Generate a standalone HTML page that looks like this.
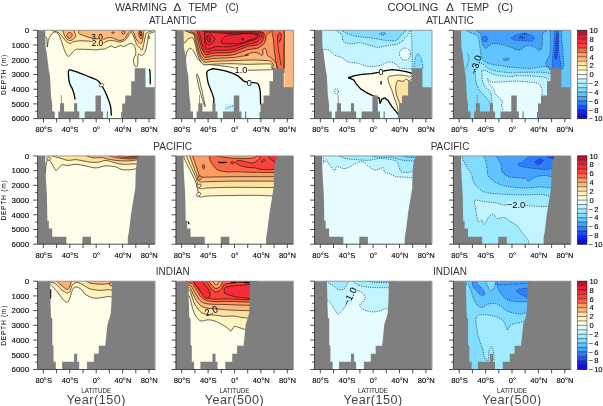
<!DOCTYPE html>
<html><head><meta charset="utf-8"><title>Zonal mean temperature change</title>
<style>html,body{margin:0;padding:0;background:#fff}svg{display:block}text{font-family:"Liberation Sans",sans-serif;fill:#222}.tk{font-size:7.6px;fill:#000;stroke:#000;stroke-width:.12px}.dk{font-size:7.9px;fill:#000;stroke:#000;stroke-width:.12px}.ti{font-size:11.8px;fill:#333}.ba{font-size:10px;fill:#333}.yr{font-size:12.6px;fill:#444;letter-spacing:.5px}.la{font-size:6.3px;fill:#222}.dl{font-size:6.7px;fill:#000;letter-spacing:.72px}.cp{fill:none;stroke:#1a1006;stroke-width:.65}.cn{fill:none;stroke:#12284a;stroke-width:.72;stroke-dasharray:1.1 1.2}.cz{fill:none;stroke:#000;stroke-width:1.3;stroke-linejoin:round;stroke-linecap:round}.ax{stroke:#222;stroke-width:.8;fill:none}.fr{stroke:#858585;stroke-width:.8;fill:none}</style></head><body>
<svg width="603" height="406" viewBox="0 0 603 406">
<rect width="603" height="406" fill="#fff"/>
<defs>
<clipPath id="c00"><rect x="37.6" y="30.3" width="117.5" height="88.3"/></clipPath>
<clipPath id="c01"><rect x="175.9" y="30.3" width="117.5" height="88.3"/></clipPath>
<clipPath id="c02"><rect x="314.5" y="30.3" width="117.5" height="88.3"/></clipPath>
<clipPath id="c03"><rect x="453.4" y="30.3" width="117.5" height="88.3"/></clipPath>
<clipPath id="c10"><rect x="37.6" y="155.9" width="117.5" height="88.3"/></clipPath>
<clipPath id="c11"><rect x="175.9" y="155.9" width="117.5" height="88.3"/></clipPath>
<clipPath id="c12"><rect x="314.5" y="155.9" width="117.5" height="88.3"/></clipPath>
<clipPath id="c13"><rect x="453.4" y="155.9" width="117.5" height="88.3"/></clipPath>
<clipPath id="c20"><rect x="37.6" y="281.2" width="117.5" height="88.3"/></clipPath>
<clipPath id="c21"><rect x="175.9" y="281.2" width="117.5" height="88.3"/></clipPath>
<clipPath id="c22"><rect x="314.5" y="281.2" width="117.5" height="88.3"/></clipPath>
<clipPath id="c23"><rect x="453.4" y="281.2" width="117.5" height="88.3"/></clipPath>
</defs>
<g clip-path="url(#c00)">
<rect x="37.6" y="30.3" width="117.5" height="88.3" fill="#fffeea"/>
<path d="M45.3 29C28.1 30.6 46.5 35.3 46.8 38.3C47.2 41.4 47.1 46.8 47.3 47.1C47.6 47.5 47.7 42.6 48.4 40.4C49.1 38.3 50.4 35.6 51.5 34.2C52.5 32.8 53.5 32.3 54.6 32.1C55.6 32 56.6 32 57.7 33.2C58.7 34.4 59.8 36.8 60.8 39.4C61.8 42 62.9 46 63.9 48.7C64.9 51.4 66.1 54.2 67 55.4C67.9 56.6 68.2 56.6 69.1 56.1C69.9 55.7 71.1 53.9 72.2 52.8C73.2 51.8 73.9 50.3 75.3 49.7C76.6 49.1 78.2 49.2 80.4 49.2C82.7 49.2 85.9 49.4 88.7 49.5C91.5 49.6 95.1 50 97 49.9C98.9 49.9 98.9 49.3 100.1 49.2C101.4 49.1 102.9 49.5 104.3 49.2C105.7 48.9 107.2 47.6 108.4 47.1C109.6 46.6 110.5 46 111.5 46.1C112.5 46.2 113.6 47.6 114.6 47.6C115.6 47.7 116.7 47 117.7 46.6C118.8 46.3 119.8 45.6 120.8 45.6C121.9 45.6 122.9 46.7 123.9 46.6C125 46.5 126 45.6 127 45.1C128.1 44.5 129.1 43.6 130.1 43.5C131.2 43.4 132.4 43.7 133.2 44.5C134.1 45.4 134.9 47.1 135.3 48.7C135.7 50.2 136 52.5 135.8 53.9C135.6 55.2 134.7 55.9 134.3 57C133.9 58 133.5 58.9 133.4 60.1C133.4 61.2 133.8 62.6 134.1 63.7C134.3 64.7 134.6 65.8 135.1 66.3C135.6 66.7 136.5 67 137 66.5C137.4 66 137.6 65.2 137.8 63.2C138 61.1 137.6 55.7 138.2 54.4C138.8 53.1 140.4 55.7 141.5 55.4C142.6 55.1 143.7 54.3 144.6 52.8C145.5 51.4 146.2 48.7 146.7 46.6C147.2 44.5 147.4 42.5 147.7 40.4C148.1 38.3 148.4 36.1 148.7 34.2C149.1 32.3 167 29.9 149.8 29C132.5 28.2 62.4 27.5 45.3 29Z" fill="#fff5c2" class="cp" style="fill:#fff5c2"/>
<path d="M57.2 29C42.5 29.6 57.8 31.3 58.7 32.7C59.7 34 61.5 35.8 62.9 37.3C64.2 38.9 65.8 40.9 67 42C68.2 43 69.1 43.5 70.1 43.5C71.1 43.5 71.8 42.4 73.2 42C74.6 41.5 76.3 41.1 78.4 40.9C80.4 40.8 83.5 40.8 85.6 40.9C87.7 41 89.2 41.2 90.8 41.4C92.3 41.7 93 42.1 94.9 42.5C96.8 42.8 100.3 43.7 102.2 43.5C104.1 43.3 105 42 106.3 41.4C107.7 40.9 109.1 40.5 110.5 40.4C111.9 40.3 113.2 40.7 114.6 40.9C116 41.2 117.4 41.9 118.8 42C120.1 42 121.7 41.9 122.9 41.4C124.1 41 125.1 40.2 126 39.4C126.9 38.5 127.4 37.3 128.1 36.3C128.7 35.2 129.5 33.8 130.1 33.2C130.7 32.6 131.2 32.3 131.7 32.7C132.2 33 132.7 34.1 133.2 35.2C133.7 36.4 134.3 38 134.8 39.4C135.3 40.8 135.7 42.3 136.3 43.5C136.9 44.7 137.7 45.8 138.4 46.6C139.1 47.5 139.9 48.1 140.5 48.7C141.1 49.3 141.6 50.4 142 50.2C142.4 50.1 142.7 48.9 143.1 47.6C143.4 46.4 143.7 44.2 144.1 42.5C144.4 40.8 144.8 38.9 145.1 37.3C145.5 35.8 145.9 34.5 146.2 33.2C146.4 31.8 161.5 29.7 146.7 29C131.8 28.3 71.8 28.4 57.2 29Z" fill="#ffe2a0" class="cp" style="fill:#ffe2a0"/>
<path d="M63.4 29C62 30.2 64.1 34.5 64.9 36.3C65.7 38.1 67 39.2 68 39.9C69.1 40.6 70.1 40.7 71.1 40.4C72.2 40.2 73.5 39.1 74.2 38.3C75 37.6 75.7 36.7 75.8 35.8C75.9 34.8 75.2 33.8 74.7 32.7C74.3 31.5 75.1 29.6 73.2 29C71.3 28.4 64.7 27.8 63.4 29Z" fill="#fdb87e" class="cp" style="fill:#fdb87e"/>
<path d="M86.6 29C77.8 29.6 78.5 31.4 78.4 32.7C78.2 33.9 83.5 35.4 85.6 36.3C87.7 37.1 88 37.3 90.8 37.8C93.5 38.3 99.6 39.3 102.2 39.4C104.8 39.5 105 38.7 106.3 38.3C107.7 38 109.1 37.4 110.5 37.5C111.9 37.6 113.2 38.4 114.6 38.9C116 39.3 117.4 40.2 118.8 40.4C120.1 40.6 121.8 40.3 122.9 39.9C124 39.5 124.7 38.8 125.5 37.8C126.2 36.9 126.9 35.2 127.5 34.2C128.2 33.2 129 32.5 129.6 31.6C130.2 30.8 138.3 29.5 131.2 29C124 28.6 95.4 28.4 86.6 29Z" fill="#fdb87e" class="cp" style="fill:#fdb87e"/>
<path d="M132.7 29C131.1 29.9 133.7 32.7 134.3 34.2C134.8 35.8 135.1 37 135.8 38.3C136.5 39.6 137.5 41.1 138.4 42C139.3 42.8 140.3 43.8 141 43.5C141.7 43.3 142.2 41.6 142.5 40.4C142.9 39.2 142.9 37.7 143.1 36.3C143.2 34.9 143.4 33.3 143.6 32.1C143.7 30.9 145.6 29.6 143.8 29C142 28.5 134.3 28.2 132.7 29Z" fill="#fdb87e" class="cp" style="fill:#fdb87e"/>
<path d="M71.9 36.1C71.7 36.6 71.3 37.2 70.9 37.5C70.5 37.9 69.8 38.1 69.4 38.1C68.9 38.1 68.3 37.9 67.9 37.6C67.5 37.2 67.2 36.7 67.1 36.2C67 35.6 67 34.9 67.2 34.4C67.4 33.9 67.8 33.3 68.3 33C68.7 32.6 69.3 32.4 69.8 32.4C70.3 32.4 70.9 32.6 71.2 32.9C71.6 33.2 71.9 33.8 72 34.3C72.2 34.9 72.1 35.6 71.9 36.1Z" fill="#fd9c62" class="cp" style="fill:#fd9c62"/>
<path d="M125.1 32.3C125.1 32.7 124.9 33.1 124.7 33.3C124.6 33.6 124.2 33.8 123.9 33.9C123.6 34 123.2 34 122.9 33.9C122.6 33.8 122.3 33.6 122.1 33.3C121.9 33.1 121.7 32.7 121.7 32.3C121.7 32 121.9 31.6 122.1 31.4C122.3 31.1 122.6 30.9 122.9 30.8C123.2 30.7 123.6 30.7 123.9 30.8C124.2 30.9 124.6 31.1 124.7 31.4C124.9 31.6 125.1 32 125.1 32.3Z" fill="#fd9c62" class="cp" style="fill:#fd9c62"/>
<path d="M142 34.2C142.1 35 142.1 36.1 142.1 36.8C142 37.5 141.8 38.1 141.5 38.4C141.3 38.7 140.9 38.8 140.6 38.6C140.2 38.3 139.9 37.8 139.6 37.1C139.3 36.5 139 35.5 138.9 34.6C138.8 33.8 138.8 32.8 138.9 32.1C139 31.4 139.2 30.7 139.4 30.4C139.7 30.1 140 30 140.4 30.3C140.7 30.5 141.1 31.1 141.4 31.7C141.6 32.4 141.9 33.4 142 34.2Z" fill="#fd9c62" class="cp" style="fill:#fd9c62"/>
<path d="M141.4 33.6C141.5 34.1 141.5 34.6 141.5 35.1C141.4 35.5 141.3 35.8 141.2 36C141.1 36.2 140.9 36.2 140.8 36.1C140.6 35.9 140.4 35.6 140.3 35.2C140.2 34.8 140 34.3 140 33.8C139.9 33.3 139.9 32.7 139.9 32.3C139.9 31.9 140 31.5 140.1 31.4C140.2 31.2 140.4 31.2 140.6 31.3C140.7 31.4 140.9 31.8 141.1 32.2C141.2 32.5 141.3 33.1 141.4 33.6Z" fill="#fb6648" class="cp" style="fill:#fb6648"/>
<path d="M114.4 32.7C114.4 32.8 114.3 32.9 114.2 33C114 33.1 113.7 33.2 113.5 33.2C113.2 33.3 112.9 33.3 112.6 33.2C112.4 33.2 112.1 33.1 112 33C111.8 32.9 111.7 32.8 111.7 32.7C111.7 32.5 111.8 32.4 112 32.3C112.1 32.2 112.4 32.1 112.6 32.1C112.9 32 113.2 32 113.5 32.1C113.7 32.1 114 32.2 114.2 32.3C114.3 32.4 114.4 32.5 114.4 32.7Z" fill="#fdb87e" class="cp" style="fill:#fdb87e"/>
<path d="M149.7 37.3C149.7 37.6 149.6 37.9 149.5 38.2C149.4 38.4 149.3 38.6 149.2 38.7C149 38.8 148.9 38.8 148.7 38.7C148.6 38.6 148.4 38.4 148.4 38.2C148.3 37.9 148.2 37.6 148.2 37.3C148.2 37 148.3 36.7 148.4 36.5C148.4 36.2 148.6 36 148.7 35.9C148.9 35.8 149 35.8 149.2 35.9C149.3 36 149.4 36.2 149.5 36.5C149.6 36.7 149.7 37 149.7 37.3Z" fill="#fff5c2" class="cp" style="fill:#fff5c2"/>
<path d="M75 99 L74.5 95.9 L72.4 89 L69.8 83.8 L68.6 76.9 L69 70 L75.9 71.7 L87.2 76 L95.9 79.5 L99.3 82 L102.8 87.2 L107 95.9 L110.5 106.2 L111.4 115.2 L111.4 120 L75 120Z" fill="#e6fcff"/>
<path d="M75 99C74.9 98.5 74.9 97.6 74.5 95.9C74.1 94.2 73.2 91 72.4 89C71.6 87 70.4 85.8 69.8 83.8C69.2 81.8 68.7 79.2 68.6 76.9C68.5 74.6 67.8 70.9 69 70C70.2 69.1 72.9 70.7 75.9 71.7C78.9 72.7 83.9 74.7 87.2 76C90.5 77.3 93.9 78.5 95.9 79.5C97.9 80.5 98.2 80.7 99.3 82C100.4 83.3 101.5 84.9 102.8 87.2C104.1 89.5 105.7 92.7 107 95.9C108.3 99.1 109.8 103 110.5 106.2C111.2 109.4 111.2 113.7 111.4 115.2" class="cz"/>
<path d="M145.5 68 L149.8 68 L150.2 87.5 L145.5 87.5Z" fill="#e6fcff"/>
<path d="M149.3 69.5 L150 71 L150.2 76 L150.3 83.8" class="cz"/>
<path d="M103.8 84.4C103.9 84.7 103.8 85 103.6 85.4C103.4 85.7 103.1 86 102.7 86.3C102.3 86.5 101.7 86.7 101.3 86.8C100.8 86.9 100.3 86.8 100 86.7C99.6 86.6 99.3 86.3 99.2 86C99.1 85.7 99.2 85.4 99.4 85C99.6 84.7 99.9 84.4 100.3 84.1C100.7 83.9 101.3 83.7 101.7 83.6C102.2 83.5 102.7 83.6 103 83.7C103.4 83.8 103.7 84.1 103.8 84.4Z" fill="#fffeea" class="cp" style="fill:#fffeea"/>
<g transform="translate(97 36.9) rotate(0)"><rect x="-5.8" y="-3.2" width="11.7" height="6.4" fill="none"/><text x="0" y="2.9" text-anchor="middle" style="font-size:8.2px;fill:#000">3.0</text></g>
<g transform="translate(97.4 42.6) rotate(0)"><rect x="-5.8" y="-3.2" width="11.7" height="6.4" fill="#ffe2a0"/><text x="0" y="2.9" text-anchor="middle" style="font-size:8.2px;fill:#000">2.0</text></g>
<path d="M37.6 30.3 L45.2 30.3 L45.6 48 L46.6 52 L48.8 70 L50 76 L51 96 L52.2 104.5 L52.2 111.4 L54.8 111.4 L54.8 118.6 L37.6 118.6Z" fill="#7f7f7f"/>
<path d="M58.3 118.6 L58.3 111.4 L60 111.4 L60 103.3 L60.9 103.3 L60.9 95 L61.7 95 L61.7 103.3 L64.1 103.3 L64.1 111.4 L74.1 111.4 L74.1 103.3 L77.2 103.3 L77.2 111.4 L79.3 111.4 L79.3 118.6Z" fill="#7f7f7f"/>
<path d="M84.7 118.6 L84.7 111.4 L95.5 111.4 L95.5 95.5 L101 95.5 L101 111.4 L103.1 111.4 L103.1 118.6Z" fill="#7f7f7f"/>
<path d="M106.7 118.6 L106.7 111.4 L107.9 111.4 L107.9 118.6Z" fill="#7f7f7f"/>
<path d="M121.2 118.6 L121.2 111.9 L122.2 111.9 L122.2 103.6 L125.2 103.6 L125.2 95.5 L131.2 95.5 L131.2 81.2 L134.7 81.2 L134.7 68.3 L145.5 68.3 L145.5 87.2 L154.8 87.2 L154.8 118.6Z" fill="#7f7f7f"/>
</g>
<path class="fr" d="M37.6 30.3 H155.1 V118.6"/>
<path class="ax" d="M37.6 30.3 V118.6 H155.1M37.6 30.3h-4.4M37.6 37.7h-2.4M37.6 45h-4.4M37.6 52.4h-2.4M37.6 59.7h-4.4M37.6 67.1h-2.4M37.6 74.5h-4.4M37.6 81.8h-2.4M37.6 89.2h-4.4M37.6 96.5h-2.4M37.6 103.9h-4.4M37.6 111.2h-2.4M37.6 118.6h-4.4M43.4 118.6v3.8M56.6 118.6v3.8M69.8 118.6v3.8M83 118.6v3.8M96.2 118.6v3.8M109.4 118.6v3.8M122.6 118.6v3.8M135.8 118.6v3.8M149 118.6v3.8"/>
<text class="tk" x="43.7" y="132.4" text-anchor="middle">80°S</text>
<text class="tk" x="70.1" y="132.4" text-anchor="middle">40°S</text>
<text class="tk" x="96.5" y="132.4" text-anchor="middle">0°</text>
<text class="tk" x="122.9" y="132.4" text-anchor="middle">40°N</text>
<text class="tk" x="149.3" y="132.4" text-anchor="middle">80°N</text>
<text class="dk" x="29.1" y="33.1" text-anchor="end">0</text>
<text class="dk" x="29.1" y="47.8" text-anchor="end">1000</text>
<text class="dk" x="29.1" y="62.5" text-anchor="end">2000</text>
<text class="dk" x="29.1" y="77.2" text-anchor="end">3000</text>
<text class="dk" x="29.1" y="92" text-anchor="end">4000</text>
<text class="dk" x="29.1" y="106.7" text-anchor="end">5000</text>
<text class="dk" x="29.1" y="121.4" text-anchor="end">6000</text>
<text class="dl" transform="translate(6.4 74.5) rotate(-90)" text-anchor="middle">DEPTH (m)</text>
<g clip-path="url(#c01)">
<rect x="175.9" y="30.3" width="117.5" height="88.3" fill="#fffeea"/>
<path d="M183 29C164.7 34.2 183.8 52.8 184 60C184.2 67.2 184.3 71.7 184.5 72C184.7 72.3 185 65.2 185.3 62C185.7 58.8 185.7 55.2 186.5 52.9C187.2 50.7 188.7 48.8 189.9 48.4C191 48 192.1 49.2 193.3 50.7C194.4 52.2 195.4 55.6 196.7 57.5C198 59.4 199.3 60.9 201.2 62C203.1 63.1 205 63.7 208 64.3C211 64.9 215.7 65.2 219.4 65.6C223 66.1 226.4 66.4 230 67C233.6 67.6 238 68.8 241 69.3C244 69.8 244.5 70.1 248 70.2C251.5 70.3 257.9 70.1 262 70C266.1 69.9 267.4 69.8 272.7 69.7C278 69.7 290.4 76.5 294 69.7C297.6 62.9 312.5 35.8 294 29C275.5 22.2 201.3 23.8 183 29Z" fill="#fff5c2" class="cp" style="fill:#fff5c2"/>
<path d="M196.6 74.3C196.7 73.4 197.8 74.7 198.6 76.9C199.4 79.1 200.3 83.5 201.2 87.2C202.1 91 203.1 96.1 203.8 99.3C204.5 102.5 205.2 106 205.2 106.6C205.1 107.1 204.3 105.1 203.4 102.8C202.6 100.4 201.3 95.9 200.3 92.4C199.4 89 198.4 85.1 197.8 82.1C197.1 79.1 196.4 75.2 196.6 74.3Z" fill="#fff5c2" class="cp" style="fill:#fff5c2"/>
<path d="M183.5 29C165.2 31.2 183.7 40.8 184.3 42.5C185 44.2 186.4 40.2 187.4 39.4C188.4 38.6 189.6 38 190.5 37.8C191.4 37.6 192.4 37.5 193.1 38.3C193.8 39.1 194.2 40.8 194.7 42.5C195.2 44.2 195.7 46.6 196.2 48.7C196.7 50.8 197.2 53 197.8 54.9C198.4 56.8 199.2 58.6 199.9 60.1C200.6 61.6 201 62.8 202 63.6C203 64.4 204.2 64.7 206 64.8C207.8 64.9 209 64.4 213 64.2C217 64 224.2 63.7 230 63.7C235.8 63.7 242.7 64.2 248 64.3C253.3 64.3 258 64 262 64C266 64 270 63.5 271.8 64.3C273.6 65.1 269.3 68 273 68.8C276.7 69.6 290.5 75.6 294 69C297.5 62.4 312.4 35.7 294 29C275.6 22.3 201.8 26.8 183.5 29Z" fill="#ffe2a0" class="cp" style="fill:#ffe2a0"/>
<path d="M191.5 29C174.8 29.9 193.2 32.5 193.8 34.2C194.4 35.9 194.6 37.5 195 39.4C195.4 41.3 196 43.5 196.5 45.6C197 47.7 197.4 49.9 198 51.8C198.6 53.7 199.2 55.5 200 57C200.8 58.5 201.5 60.1 202.5 61C203.5 61.9 204.2 62.2 206 62.3C207.8 62.4 209 61.6 213 61.4C217 61.1 224.2 61 230 60.8C235.8 60.6 243.5 60.2 248 60.1C252.5 60 254 59.9 256.8 60C259.6 60.1 262.6 60.3 265 60.5C267.4 60.7 269.6 60.6 271 61.4C272.4 62.1 272.9 63.8 273.5 65C274.1 66.2 270.9 68.2 274.3 68.9C277.7 69.6 290.7 75.7 294 69C297.3 62.4 311.1 35.7 294 29C276.9 22.3 208.2 28.1 191.5 29Z" fill="#fdb87e" class="cp" style="fill:#fdb87e"/>
<path d="M193.5 29C178.6 30 194.7 33.3 195.2 35.2C195.7 37.1 196.1 38.5 196.5 40.4C196.9 42.3 197.3 44.6 197.8 46.6C198.3 48.6 198.9 50.8 199.5 52.5C200.1 54.2 200.8 55.8 201.5 57C202.2 58.2 202.9 59.2 204 59.6C205.1 60 206.5 59.7 208 59.5C209.5 59.3 209.3 58.8 213 58.5C216.7 58.2 225.5 58.1 230 57.8C234.5 57.5 236.9 57 240 56.5C243.1 56 247.6 55.3 248.4 55.1C249.2 54.9 245 55.3 245 55.1C245 54.9 247.1 54.2 248.4 53.8C249.6 53.4 251.2 52.8 252.6 52.6C254 52.4 255.5 52.3 256.8 52.6C258 52.8 259.3 53.7 260.1 54.2C260.9 54.7 261.3 55.6 261.8 55.5C262.3 55.4 262.9 54.7 263 53.8C263.2 52.9 262.4 51 262.6 50.1C262.8 49.1 263.7 48.5 264.3 48.4C264.8 48.2 265.5 48.5 266 49.2C266.4 49.9 266.5 51.5 266.8 52.6C267.1 53.6 266.9 54.7 267.6 55.5C268.3 56.3 270 56.8 271 57.6C272 58.4 272.7 59.1 273.5 60.1C274.3 61.1 275.3 62 276 63.5C276.7 64.9 276.3 67.8 277.7 68.6C279.1 69.5 283.2 75.4 284.4 68.8C285.6 62.2 299.8 35.6 284.6 29C269.5 22.4 208.4 28 193.5 29Z" fill="#fd9c62" class="cp" style="fill:#fd9c62"/>
<path d="M195.3 29C183.9 30 196.4 33.3 196.8 35.2C197.2 37.1 197.6 38.6 198 40.4C198.4 42.2 198.8 44.1 199.3 46C199.8 47.9 200.4 49.9 201 51.5C201.6 53.1 202.2 54.5 203 55.5C203.8 56.5 204.5 57 205.5 57.3C206.5 57.5 207.6 57.2 209 57C210.4 56.8 210.5 56.1 214 55.8C217.5 55.5 225.7 55.8 230 55.3C234.3 54.8 237 53.5 240 52.5C243 51.5 245.2 50.3 248 49.6C250.8 48.9 254.6 49 256.8 48.4C259 47.8 259.8 47.1 261 46.3C262.2 45.5 263.2 44.5 264 43.5C264.8 42.5 265.3 41.2 265.6 40C265.9 38.8 266.1 37.8 266 36C265.9 34.2 276.8 30.2 265 29C253.2 27.8 206.7 28 195.3 29Z" fill="#fb6648" class="cp" style="fill:#fb6648"/>
<path d="M272.6 29C270.9 30.8 273.2 36.5 273.5 40C273.8 43.5 274 47 274.3 50C274.6 53 274.9 55.7 275.3 58C275.7 60.3 276.1 62.2 276.5 64C276.9 65.8 276.9 68.2 278 69C279.1 69.8 282.4 72.2 283.4 69C284.4 65.8 284 56.7 284 50C284 43.3 285.5 32.5 283.6 29C281.7 25.5 274.3 27.2 272.6 29Z" fill="#fb6648" class="cp" style="fill:#fb6648"/>
<path d="M281.1 37.6C280.9 38.5 280.7 39.5 280.3 40.2C280 40.9 279.6 41.5 279.2 41.8C278.8 42 278.3 41.9 278 41.6C277.7 41.3 277.5 40.6 277.4 39.8C277.2 39 277.3 38 277.4 37C277.5 36.1 277.8 35.1 278.1 34.4C278.4 33.7 278.9 33.1 279.3 32.8C279.7 32.6 280.1 32.7 280.4 33C280.7 33.3 281 34 281.1 34.8C281.2 35.6 281.2 36.7 281.1 37.6Z" fill="#f9423d" class="cp" style="fill:#f9423d"/>
<path d="M277.7 41.7C277.8 42.5 277.9 44.9 278.1 46.7C278.3 48.5 278.6 50.5 278.9 52.6C279.3 54.7 279.7 57.2 280 59.3C280.4 61.4 280.9 64.1 281 65.1" class="cp"/>
<path d="M197 29C195.1 30 198 33.2 198.4 35C198.8 36.8 199.2 38.2 199.6 40C200 41.8 200.4 43.8 200.9 45.5C201.4 47.2 201.9 48.7 202.5 50C203.1 51.3 203.8 52.7 204.5 53.5C205.2 54.3 206.1 54.7 207 54.8C207.9 54.9 208.8 54.3 210 54C211.2 53.7 211.2 53.3 214.5 53C217.8 52.7 225.8 53 230 52.4C234.2 51.8 237 50.3 240 49.3C243 48.3 245.3 47 248 46.3C250.7 45.6 253.9 45.5 256 45C258.1 44.5 259.3 43.8 260.5 43C261.7 42.2 262.4 41.2 263 40C263.6 38.8 263.9 37.2 264 36C264.1 34.8 264.5 33.3 263.5 32.6C262.5 31.9 261.9 31.8 258 31.6C254.1 31.4 246 31.5 240 31.4C234 31.3 227 31.4 222 31C217 30.6 214.2 29.3 210 29C205.8 28.7 198.9 28 197 29Z" fill="#f9423d" class="cp" style="fill:#f9423d"/>
<path d="M198.8 29C198.1 30 199.6 33.2 200 35C200.4 36.8 200.8 38.3 201.2 40C201.6 41.7 201.9 43.5 202.4 45C202.9 46.5 203.4 47.9 204 49C204.6 50.1 205.2 51.1 206 51.6C206.8 52.1 207.7 52.3 208.5 52.2C209.3 52.1 209.9 51.5 211 51.2C212.1 50.9 211.8 50.4 215 50.2C218.2 50 225.8 50.4 230 49.9C234.2 49.4 237 48 240 47C243 46 245.5 44.9 248 44.2C250.5 43.5 253.2 43.3 255 42.7C256.8 42.1 257.9 41.4 259 40.5C260.1 39.6 261 38.5 261.5 37.5C262 36.5 262.1 35.2 262 34.4C261.9 33.6 264.7 33.2 261 32.9C257.3 32.6 246.8 32.8 240 32.6C233.2 32.5 225 32.3 220 32C215 31.7 212.7 31.1 210 30.6C207.3 30.1 205.9 29.3 204 29C202.1 28.7 199.5 28 198.8 29Z" fill="#f52c37" class="cp" style="fill:#f52c37"/>
<path d="M203 31C201.7 30.9 204.1 30.5 204.4 31.4C204.7 32.3 204.7 34.2 204.8 36.4C204.9 38.6 204.8 42.6 205.2 44.8C205.5 46.9 205.9 48.8 206.9 49.3C207.9 49.8 209.4 48.5 211.1 48.1C212.8 47.7 213.8 46.8 216.9 46.6C220 46.4 225.7 47.2 229.5 46.8C233.3 46.4 236.9 45.2 240 44.4C243.1 43.5 245.7 42.4 248 41.7C250.3 41 252.4 40.5 254 40C255.6 39.5 256.6 39 257.5 38.4C258.4 37.8 259.2 36.9 259.5 36.2C259.8 35.5 260.6 34.8 259 34.4C257.4 34 253.8 34.1 250 34C246.2 33.9 240.7 33.9 236 33.8C231.3 33.7 226 33.5 222 33.2C218 32.9 215.2 32.6 212 32.2C208.8 31.8 204.3 31.1 203 31Z" fill="#f32a38" class="cp" style="fill:#f32a38"/>
<path d="M221.1 42.2C221.2 41.2 222.7 38.4 224.1 37.2C225.5 36 227.2 35.6 229.5 35.1C231.8 34.6 235.1 34.6 237.9 34.3C240.6 34 243.6 33.5 246 33.4C248.4 33.4 250 33.5 252 33.8C254 34.1 257.5 34.7 258 35.5C258.5 36.3 256.3 37.6 255 38.4C253.7 39.1 251.5 39.4 250 40C248.5 40.6 248 41.2 246 41.8C244 42.4 240.6 43.1 237.9 43.5C235.1 43.8 231.9 43.9 229.5 43.9C227.1 43.9 225 43.8 223.6 43.5C222.2 43.2 221.1 43.3 221.1 42.2Z" fill="#ea2236" class="cp" style="fill:#ea2236"/>
<path d="M205.4 33C206.1 32.1 208.2 32 209.4 32.6C210.6 33.2 211.8 35.3 212.8 36.4C213.7 37.5 214.8 38.3 214.8 39.3C214.8 40.3 213.7 41.3 212.8 42.2C211.8 43.1 210.4 44.5 209.4 44.8C208.4 45 207.2 44.6 206.5 43.5C205.7 42.4 205.2 39.8 205 38.1C204.9 36.3 204.7 33.9 205.4 33Z" fill="#ef2637" class="cp" style="fill:#ef2637"/>
<path d="M210.4 38.1C210.5 38.8 210.5 39.6 210.5 40.2C210.4 40.8 210.1 41.3 209.8 41.6C209.5 41.9 209.1 42 208.7 41.9C208.3 41.7 207.9 41.3 207.5 40.8C207.2 40.3 206.9 39.5 206.8 38.9C206.6 38.2 206.6 37.3 206.7 36.8C206.8 36.2 207 35.6 207.3 35.3C207.6 35 208 34.9 208.4 35.1C208.8 35.2 209.3 35.6 209.6 36.1C209.9 36.6 210.2 37.4 210.4 38.1Z" fill="#d21a32" class="cp" style="fill:#d21a32"/>
<path d="M243.4 39.1C243.4 39.3 243.3 39.5 243.3 39.7C243.2 39.9 243 40 242.9 40.1C242.7 40.2 242.6 40.2 242.4 40.1C242.3 40 242.1 39.9 242 39.7C242 39.5 241.9 39.3 241.9 39.1C241.9 38.8 242 38.6 242 38.4C242.1 38.2 242.3 38.1 242.4 38C242.6 38 242.7 38 242.9 38C243 38.1 243.2 38.2 243.3 38.4C243.3 38.6 243.4 38.8 243.4 39.1Z" fill="#d21a32" class="cp" style="fill:#d21a32"/>
<path d="M213.7 103.3 L213.7 98.3 L211.4 91.5 L208 82.4 L206.9 72.2 L210.3 69.5 L214.8 68.8 L226.2 71.1 L237.5 75.6 L244.3 81.3 L251.1 82.4 L257.9 83.8 L260.2 91.5 L260.6 104 L260.6 120 L213.7 120Z" fill="#e6fcff"/>
<path d="M213.7 103.3C213.7 102.5 214.1 100.3 213.7 98.3C213.3 96.3 212.4 94.1 211.4 91.5C210.5 88.8 208.8 85.6 208 82.4C207.3 79.2 206.5 74.4 206.9 72.2C207.3 70.1 209 70.1 210.3 69.5C211.6 68.9 212.2 68.6 214.8 68.8C217.5 69.1 222.4 70 226.2 71.1C229.9 72.2 234.5 73.9 237.5 75.6C240.5 77.3 242 80.2 244.3 81.3C246.6 82.4 248.8 82 251.1 82.4C253.4 82.8 256.4 82.3 257.9 83.8C259.4 85.3 259.7 88.1 260.2 91.5C260.6 94.9 260.5 101.9 260.6 104" class="cz"/>
<path d="M225 104 L234.3 104 L234.3 111 L225 111Z" fill="#c2f5ff"/>
<path d="M225.5 108.5 L228 107.5 L231 106.5 L234 105.5" class="cn"/>
<g transform="translate(241 69.3) rotate(0)"><rect x="-6.6" y="-3.2" width="13.1" height="6.4" fill="#fffeea"/><text x="0" y="3.3" text-anchor="middle" style="font-size:9.2px;fill:#000">1.0</text></g>
<g transform="translate(249.2 82.3) rotate(0)"><rect x="-2.2" y="-3.2" width="4.4" height="6.4" fill="#e6fcff"/><text x="0" y="3.3" text-anchor="middle" style="font-size:9.2px;fill:#000">0</text></g>
<path d="M284.4 29 L294 29 L294 88 L284.4 88Z" fill="#fdb87e"/>
<path d="M284.3 31 L284.3 68" class="cp"/>
<path d="M175.9 30.3 L183.5 30.3 L183.9 48 L184.9 52 L187.1 70 L188.3 76 L189.3 96 L190.5 104.5 L190.5 111.4 L193.1 111.4 L193.1 118.6 L175.9 118.6Z" fill="#7f7f7f"/>
<path d="M196.6 118.6 L196.6 111.4 L198.3 111.4 L198.3 103.3 L199.2 103.3 L199.2 95 L200 95 L200 103.3 L202.4 103.3 L202.4 111.4 L212.4 111.4 L212.4 103.3 L215.5 103.3 L215.5 111.4 L217.6 111.4 L217.6 118.6Z" fill="#7f7f7f"/>
<path d="M223 118.6 L223 111.4 L233.8 111.4 L233.8 95.5 L239.3 95.5 L239.3 111.4 L241.4 111.4 L241.4 118.6Z" fill="#7f7f7f"/>
<path d="M245 118.6 L245 111.4 L246.2 111.4 L246.2 118.6Z" fill="#7f7f7f"/>
<path d="M259.5 118.6 L259.5 111.9 L260.5 111.9 L260.5 103.6 L263.5 103.6 L263.5 95.5 L269.5 95.5 L269.5 81.2 L273 81.2 L273 68.3 L283.8 68.3 L283.8 87.2 L293.1 87.2 L293.1 118.6Z" fill="#7f7f7f"/>
</g>
<path class="fr" d="M175.9 30.3 H293.4 V118.6"/>
<path class="ax" d="M175.9 30.3 V118.6 H293.4M175.9 30.3h-4.4M175.9 37.7h-2.4M175.9 45h-4.4M175.9 52.4h-2.4M175.9 59.7h-4.4M175.9 67.1h-2.4M175.9 74.5h-4.4M175.9 81.8h-2.4M175.9 89.2h-4.4M175.9 96.5h-2.4M175.9 103.9h-4.4M175.9 111.2h-2.4M175.9 118.6h-4.4M181.7 118.6v3.8M194.9 118.6v3.8M208.1 118.6v3.8M221.3 118.6v3.8M234.5 118.6v3.8M247.7 118.6v3.8M260.9 118.6v3.8M274.1 118.6v3.8M287.3 118.6v3.8"/>
<text class="tk" x="182" y="132.4" text-anchor="middle">80°S</text>
<text class="tk" x="208.4" y="132.4" text-anchor="middle">40°S</text>
<text class="tk" x="234.8" y="132.4" text-anchor="middle">0°</text>
<text class="tk" x="261.2" y="132.4" text-anchor="middle">40°N</text>
<text class="tk" x="287.6" y="132.4" text-anchor="middle">80°N</text>
<g clip-path="url(#c02)">
<rect x="314.5" y="30.3" width="117.5" height="88.3" fill="#e6fcff"/>
<path d="M321 29C302.5 32.2 321.6 45 322.2 48.4C322.8 51.8 323.1 49.2 324.5 49.5C325.8 49.9 328.4 49.7 330.1 50.7C331.8 51.6 332.8 54.1 334.7 55.2C336.6 56.3 339.2 56.3 341.5 57.5C343.7 58.6 345.6 61.1 348.3 62C350.9 63 354 62.4 357.4 63.1C360.8 63.9 364.9 66.2 368.7 66.5C372.5 66.9 376.6 66.2 380 65.4C383.4 64.7 386.5 62.2 389.1 62C391.7 61.8 394.2 63.3 395.9 64.3C397.6 65.2 397.6 66.9 399.3 67.7C401 68.4 404 68.6 406.1 68.8C408.2 69 409.1 69 411.8 68.8C414.4 68.7 418.5 68.1 422 68C425.5 67.9 431.2 74.5 433 68C434.8 61.5 451.7 35.5 433 29C414.3 22.5 339.5 25.8 321 29Z" fill="#c2f5ff" class="cn" style="fill:#c2f5ff"/>
<path d="M412 29 L433 29 L433 88 L412 88Z" fill="#a0ebff"/>
<path d="M341 29.1C330.4 30.1 341.5 32.7 341.9 34.8C342.4 36.9 342.3 40.1 343.7 41.6C345.2 43.1 347.9 43.7 350.5 43.9C353.2 44.1 356.6 42.6 359.6 42.7C362.6 42.9 365.7 44.3 368.7 45C371.7 45.8 375.1 47.1 377.8 47.3C380.4 47.5 382.3 46.5 384.6 46.1C386.8 45.8 389.1 45.4 391.4 45C393.6 44.6 396.1 44.8 398.2 43.9C400.2 42.9 402.6 41.8 403.8 39.3C405 36.9 415.9 30.8 405.4 29.1C395 27.4 351.6 28.2 341 29.1Z" fill="#a0ebff" class="cn" style="fill:#a0ebff"/>
<path d="M345.6 29.1C337.2 30.1 347.8 33.5 350.5 34.8C353.3 36.1 358.1 36.5 361.9 37.1C365.7 37.6 369.1 37.6 373.2 38.2C377.4 38.8 383.1 40.1 386.8 40.5C390.6 40.8 393.6 41.2 395.9 40.5C398.2 39.7 399.6 37.8 400.4 35.9C401.3 34 410 30.3 400.9 29.1C391.7 28 354 28.2 345.6 29.1Z" fill="#80ddff" class="cn" style="fill:#80ddff"/>
<path d="M385.9 33.9C385.9 34.1 385.7 34.4 385.3 34.6C385 34.7 384.3 34.9 383.7 35C383.1 35 382.4 35 381.8 35C381.2 34.9 380.5 34.7 380.2 34.6C379.8 34.4 379.6 34.1 379.6 33.9C379.6 33.7 379.8 33.4 380.2 33.2C380.5 33 381.2 32.9 381.8 32.8C382.4 32.7 383.1 32.7 383.7 32.8C384.3 32.9 385 33 385.3 33.2C385.7 33.4 385.9 33.7 385.9 33.9Z" fill="#60c4fe" class="cn" style="fill:#60c4fe"/>
<path d="M410.4 54.1C410.4 55.3 410 56.7 409.4 57.7C408.7 58.6 407.7 59.5 406.7 59.9C405.6 60.3 404.3 60.3 403.3 59.9C402.3 59.5 401.2 58.6 400.6 57.7C399.9 56.7 399.5 55.3 399.5 54.1C399.5 52.9 399.9 51.4 400.6 50.5C401.2 49.5 402.3 48.6 403.3 48.3C404.3 47.9 405.6 47.9 406.7 48.3C407.7 48.6 408.7 49.5 409.4 50.5C410 51.4 410.4 52.9 410.4 54.1Z" fill="#e6fcff" class="cn" style="fill:#e6fcff"/>
<path d="M414.5 68.9C413.3 67.6 414.6 63.3 414.8 61.1C415.1 59 415.6 57.2 416.1 56C416.6 54.7 417 54 417.6 53.9C418.2 53.8 419.1 54.4 419.7 55.4C420.4 56.5 421 57.8 421.5 60.1C421.9 62.3 423.7 67.4 422.5 68.9C421.4 70.4 415.8 70.2 414.5 68.9Z" fill="#80ddff" class="cn" style="fill:#80ddff"/>
<path d="M411.1 29C411.2 30.6 411.6 35.1 411.7 38.4C411.9 41.6 411.9 45.3 412 48.7C412 52.2 412.2 55.8 412.2 59.1C412.2 62.3 412 66.8 412 68.4" class="cn"/>
<path d="M338.5 91.5C338.5 92 338.4 92.7 338.1 93.1C337.9 93.5 337.5 93.9 337.1 94.1C336.7 94.2 336.2 94.2 335.9 94.1C335.5 93.9 335.1 93.5 334.8 93.1C334.6 92.7 334.4 92 334.4 91.5C334.4 91 334.6 90.3 334.8 89.9C335.1 89.5 335.5 89.1 335.9 88.9C336.2 88.7 336.7 88.7 337.1 88.9C337.5 89.1 337.9 89.5 338.1 89.9C338.4 90.3 338.5 91 338.5 91.5Z" fill="#c2f5ff" class="cn" style="fill:#c2f5ff"/>
<path d="M412.3 73.3 L406.1 71.7 L399.2 70.3 L392.3 69.6 L385.4 70.6 L378.5 72.3 L371.6 73.7 L361.9 74.4 L353.7 75.8 L348.8 77.9 L353.7 79.9 L356.4 84.1 L360.6 88.9 L366.1 92.3 L371.6 95.1 L376.4 96.8 L379.2 98.1 L380.1 103.4 L381.9 99.2 L384.7 97.9 L388.1 100.6 L391.6 106.1 L395 110.3 L398.5 114.7 L400 120 L411 100 L411 75Z" fill="#fffeea"/>
<path d="M412.3 73.3 L406.1 71.7 L399.2 70.3 L392.3 69.6 L385.4 70.6 L378.5 72.3 L371.6 73.7 L361.9 74.4 L353.7 75.8 L348.8 77.9 L353.7 79.9 L356.4 84.1 L360.6 88.9 L366.1 92.3 L371.6 95.1 L376.4 96.8 L379.2 98.1 L380.1 103.4 L381.9 99.2 L384.7 97.9 L388.1 100.6 L391.6 106.1 L395 110.3 L398.5 114.7" class="cz"/>
<path d="M412.3 77.4C411.8 73.1 410.6 77.4 409.5 77.2C408.5 76.9 407.8 76.1 406.1 75.8C404.3 75.4 401.5 75.1 399.2 75.1C396.9 75.1 394.1 75.4 392.3 75.8C390.4 76.1 388.7 76 388.1 77.2C387.6 78.3 388.3 80.6 388.8 82.7C389.4 84.8 390.7 87.1 391.6 89.6C392.5 92.1 393.4 95.1 394.3 97.9C395.3 100.6 396.4 103.7 397.1 106.1C397.8 108.6 397.7 111.3 398.8 112.3C399.8 113.4 401.1 113.8 403.3 112.3C405.6 110.9 410.8 109.2 412.3 103.4C413.8 97.6 412.7 81.8 412.3 77.4Z" fill="#fff5c2" class="cp" style="fill:#fff5c2"/>
<path d="M412.3 81.3C411.7 77.5 409.9 81 408.8 80.6C407.8 80.3 407 79.1 406.1 79.2C405.1 79.4 404.5 81.1 403.3 81.3C402.2 81.5 400.2 80.6 399.2 80.6C398.1 80.6 397.6 80.7 397.1 81.3C396.6 81.9 396.4 82.7 396.1 84.1C395.9 85.4 395.6 87.5 395.7 89.6C395.9 91.7 396.5 94.4 397.1 96.5C397.7 98.6 398.6 100.8 399.2 102C399.8 103.2 398.6 103.4 400.8 103.7C403 103.9 410.4 107.4 412.3 103.7C414.2 99.9 412.9 85.1 412.3 81.3Z" fill="#ffe2a0" class="cp" style="fill:#ffe2a0"/>
<g transform="translate(381 71.6) rotate(0)"><rect x="-2.1" y="-3.2" width="4.3" height="6.4" fill="#f4fdf6"/><text x="0" y="3.2" text-anchor="middle" style="font-size:9px;fill:#000">0</text></g>
<path d="M381 81.6 L381 84.1" class="cz"/>
<path d="M350.3 77.7C350.3 77.9 350.3 78.2 350.1 78.4C350 78.5 349.8 78.7 349.6 78.8C349.4 78.8 349.1 78.8 348.9 78.8C348.7 78.7 348.5 78.5 348.3 78.4C348.2 78.2 348.1 77.9 348.1 77.7C348.1 77.5 348.2 77.3 348.3 77.1C348.5 76.9 348.7 76.7 348.9 76.7C349.1 76.6 349.4 76.6 349.6 76.7C349.8 76.7 350 76.9 350.1 77.1C350.3 77.3 350.3 77.5 350.3 77.7Z" fill="#000"/>
<path d="M314.5 30.3 L322.1 30.3 L322.5 48 L323.5 52 L325.7 70 L326.9 76 L327.9 96 L329.1 104.5 L329.1 111.4 L331.7 111.4 L331.7 118.6 L314.5 118.6Z" fill="#7f7f7f"/>
<path d="M335.2 118.6 L335.2 111.4 L336.9 111.4 L336.9 103.3 L337.8 103.3 L337.8 95 L338.6 95 L338.6 103.3 L341 103.3 L341 111.4 L351 111.4 L351 103.3 L354.1 103.3 L354.1 111.4 L356.2 111.4 L356.2 118.6Z" fill="#7f7f7f"/>
<path d="M361.6 118.6 L361.6 111.4 L372.4 111.4 L372.4 95.5 L377.9 95.5 L377.9 111.4 L380 111.4 L380 118.6Z" fill="#7f7f7f"/>
<path d="M383.6 118.6 L383.6 111.4 L384.8 111.4 L384.8 118.6Z" fill="#7f7f7f"/>
<path d="M398.1 118.6 L398.1 111.9 L399.1 111.9 L399.1 103.6 L402.1 103.6 L402.1 95.5 L408.1 95.5 L408.1 81.2 L411.6 81.2 L411.6 68.3 L422.4 68.3 L422.4 87.2 L431.7 87.2 L431.7 118.6Z" fill="#7f7f7f"/>
</g>
<path class="fr" d="M314.5 30.3 H432 V118.6"/>
<path class="ax" d="M314.5 30.3 V118.6 H432M314.5 30.3h-4.4M314.5 37.7h-2.4M314.5 45h-4.4M314.5 52.4h-2.4M314.5 59.7h-4.4M314.5 67.1h-2.4M314.5 74.5h-4.4M314.5 81.8h-2.4M314.5 89.2h-4.4M314.5 96.5h-2.4M314.5 103.9h-4.4M314.5 111.2h-2.4M314.5 118.6h-4.4M320.3 118.6v3.8M333.5 118.6v3.8M346.7 118.6v3.8M359.9 118.6v3.8M373.1 118.6v3.8M386.3 118.6v3.8M399.5 118.6v3.8M412.7 118.6v3.8M425.9 118.6v3.8"/>
<text class="tk" x="320.6" y="132.4" text-anchor="middle">80°S</text>
<text class="tk" x="347" y="132.4" text-anchor="middle">40°S</text>
<text class="tk" x="373.4" y="132.4" text-anchor="middle">0°</text>
<text class="tk" x="399.8" y="132.4" text-anchor="middle">40°N</text>
<text class="tk" x="426.2" y="132.4" text-anchor="middle">80°N</text>
<g clip-path="url(#c03)">
<rect x="453.4" y="30.3" width="117.5" height="88.3" fill="#80ddff"/>
<path d="M472.7 29C456.8 30.2 476.6 33.3 477.9 36.3C479.1 39.2 479.4 43.5 479.9 46.6C480.4 49.7 480.3 52.5 481 54.9C481.6 57.3 482.3 59.5 484.1 61.1C485.8 62.6 488.4 63.4 491.3 64.2C494.2 65 498.2 65.2 501.6 65.7C505.1 66.3 507.4 66.9 512 67.3C516.6 67.7 523.8 68.5 529.4 68.4C534.9 68.2 541.8 66.4 545.2 66.5C548.6 66.7 548.8 68.6 549.8 69C550.7 69.5 547.1 69 551 69C554.9 69 569.3 75.7 573 69C576.7 62.3 589.7 35.7 573 29C556.3 22.3 488.5 27.8 472.7 29Z" fill="#60c4fe" class="cn" style="fill:#60c4fe"/>
<path d="M560 60 L573 60 L573 88 L560 88Z" fill="#60c4fe"/>
<path d="M480.7 29C470.4 29.9 480.8 32.5 481 34.2C481.1 35.9 481.1 37.5 481.5 39.4C481.8 41.3 482.2 44.1 483 45.6C483.8 47 485.1 48.2 486.1 48.2C487.2 48.2 488 46.4 489.2 45.6C490.4 44.8 491.3 43.7 493.4 43.5C495.4 43.3 498.5 43.9 501.6 44.5C504.7 45.2 509.6 46.8 512 47.6C514.4 48.5 514.5 49.4 516 49.7C517.5 50.1 519.8 50.2 521.2 49.7C522.5 49.2 523.1 47.3 524.3 46.6C525.5 45.9 526.7 45.5 528.4 45.6C530.1 45.7 532.9 46.4 534.6 47.1C536.3 47.9 537.6 50 538.8 50.2C539.9 50.5 540.7 49.8 541.3 48.7C541.9 47.6 542.2 45.9 542.4 43.5C542.5 41.1 542.3 36.6 542.4 34.2C542.5 31.8 553.2 29.9 542.9 29C532.6 28.2 491.1 28.2 480.7 29Z" fill="#44a2fc" class="cn" style="fill:#44a2fc"/>
<path d="M487.5 38.4C487.6 39 487.6 39.7 487.4 40.2C487.2 40.7 486.8 41.2 486.3 41.4C485.9 41.7 485.3 41.8 484.8 41.7C484.3 41.6 483.8 41.3 483.4 40.9C483 40.5 482.7 39.8 482.6 39.3C482.5 38.7 482.6 38 482.8 37.5C483 37 483.4 36.5 483.9 36.3C484.3 36 484.9 35.9 485.4 36C485.9 36.1 486.4 36.4 486.8 36.8C487.1 37.2 487.4 37.9 487.5 38.4Z" fill="#2e7efc" class="cn" style="fill:#2e7efc"/>
<path d="M511.7 37.5C512.4 36.6 515.5 35 518 34.3C520.6 33.7 526.4 33.6 527.1 33.4C527.8 33.3 521.5 33.4 522.2 33.7C522.9 34 529.5 34.5 531.5 35.2C533.5 35.9 533.9 36.9 534.1 37.8C534.3 38.8 533.8 40.4 532.5 40.9C531.3 41.4 528.4 41 526.3 40.9C524.3 40.8 521.5 40.4 520.1 40.4C518.8 40.4 519.1 40.8 518 40.7C516.9 40.6 514.6 40.3 513.5 39.8C512.4 39.3 510.9 38.4 511.7 37.5Z" fill="#2e7efc" class="cn" style="fill:#2e7efc"/>
<path d="M524.4 37.3C524.4 37.5 524.2 37.7 523.9 37.9C523.6 38 523 38.1 522.5 38.2C522 38.2 521.4 38.2 520.9 38.2C520.4 38.1 519.8 38 519.5 37.9C519.2 37.7 519 37.5 519 37.3C519 37.1 519.2 36.9 519.5 36.8C519.8 36.6 520.4 36.5 520.9 36.4C521.4 36.4 522 36.4 522.5 36.4C523 36.5 523.6 36.6 523.9 36.8C524.2 36.9 524.4 37.1 524.4 37.3Z" fill="#1e4efa" class="cn" style="fill:#1e4efa"/>
<path d="M509.2 59.3C509.2 59.5 509 59.8 508.6 60C508.3 60.1 507.7 60.3 507.1 60.4C506.6 60.4 505.9 60.4 505.3 60.4C504.8 60.3 504.2 60.1 503.9 60C503.5 59.8 503.3 59.5 503.3 59.3C503.3 59.1 503.5 58.8 503.9 58.6C504.2 58.4 504.8 58.3 505.3 58.2C505.9 58.1 506.6 58.1 507.1 58.2C507.7 58.3 508.3 58.4 508.6 58.6C509 58.8 509.2 59.1 509.2 59.3Z" fill="#44a2fc" class="cn" style="fill:#44a2fc"/>
<path d="M551 29C549.3 31.4 550.6 39.4 550.4 43.5C550.3 47.6 550.7 50.6 549.9 53.9C549.1 57.1 546.1 61 545.8 63.2C545.4 65.3 546.8 65.8 547.9 66.8C548.9 67.7 549.5 68.5 552 68.8C554.4 69.2 560.7 71.3 562.5 68.8C564.4 66.3 563.2 58.9 563.1 53.9C562.9 48.8 561.9 42.5 561.5 38.3C561.1 34.2 562.2 30.6 560.5 29C558.7 27.5 552.6 26.6 551 29Z" fill="#44a2fc" class="cn" style="fill:#44a2fc"/>
<path d="M555.1 29C554.3 32.3 554 43.7 553.5 48.7C553.1 53.7 552.6 55.7 552.5 59C552.4 62.4 551.7 67.2 553 68.8C554.3 70.5 559.3 70.5 560.5 68.8C561.6 67.2 560.3 62.4 560 59C559.6 55.7 558.9 53.7 558.6 48.7C558.3 43.7 559 32.3 558.4 29C557.8 25.8 555.9 25.8 555.1 29Z" fill="#2e7efc" class="cn" style="fill:#2e7efc"/>
<path d="M556.6 34.2C556.2 36.6 555.6 44.9 555.3 48.7C555 52.5 554.5 55.2 554.7 57C554.9 58.7 556.1 60.4 556.6 59C557.2 57.6 557.5 52.8 557.8 48.7C558 44.5 558.3 36.6 558.1 34.2C557.9 31.8 557.1 31.8 556.6 34.2Z" fill="#1e4efa" class="cn" style="fill:#1e4efa"/>
<path d="M551 73.5 L540 72.3 L518 72.4 L512 72.9 L495.4 70.9 L488.2 68.3 L483 64.1 L477.5 62.5 L475.8 70.3 L475.3 77.6 L476.8 84.8 L479.9 91 L485.1 96.2 L489.2 101.4 L490.5 106 L491 112 L491 120 L551 120Z" fill="#a0ebff"/>
<path d="M551 73.5C549.2 73.3 545.5 72.5 540 72.3C534.5 72.1 522.7 72.3 518 72.4C513.3 72.5 515.8 73.2 512 72.9C508.2 72.7 499.4 71.7 495.4 70.9C491.4 70.1 490.3 69.4 488.2 68.3C486.1 67.2 484.8 65.1 483 64.1C481.2 63.1 478.7 61.5 477.5 62.5C476.3 63.5 476.2 67.8 475.8 70.3C475.4 72.8 475.1 75.2 475.3 77.6C475.5 80 476 82.6 476.8 84.8C477.6 87 478.5 89.1 479.9 91C481.3 92.9 483.6 94.5 485.1 96.2C486.7 97.9 488.3 99.8 489.2 101.4C490.1 103 490.2 104.2 490.5 106C490.8 107.8 490.9 111 491 112" class="cn"/>
<path d="M549 79 L540.7 76.8 L518 75.6 L512 76.5 L498.5 75.5 L491.3 73.4 L486.1 70.9 L482 70.3 L482 73.4 L482.5 80.7 L485.1 86.9 L489.2 90.5 L491.3 94.1 L491.5 99.3 L492 104 L492 120 L551 120Z" fill="#c2f5ff"/>
<path d="M549 79C547.6 78.6 545.9 77.4 540.7 76.8C535.5 76.2 522.8 75.6 518 75.6C513.2 75.5 515.2 76.5 512 76.5C508.8 76.5 501.9 76 498.5 75.5C495.1 75 493.4 74.2 491.3 73.4C489.2 72.6 487.7 71.4 486.1 70.9C484.6 70.4 482.7 69.9 482 70.3C481.3 70.7 481.9 71.7 482 73.4C482.1 75.1 482 78.5 482.5 80.7C483 83 484 85.3 485.1 86.9C486.2 88.5 488.2 89.3 489.2 90.5C490.2 91.7 490.9 92.6 491.3 94.1C491.7 95.6 491.4 97.6 491.5 99.3C491.6 101 491.9 103.2 492 104" class="cn"/>
<path d="M541.8 97 L541.8 89.2 L538.4 83.6 L529.4 82 L518 81.3 L512 81.2 L503.7 81.7 L495.4 82.2 L490.3 81.7 L487.7 78.1 L487.7 79.6 L489.2 83.8 L493.4 89 L495.4 94.1 L498.5 97.2 L502.7 101.4 L501.5 105.1 L503.3 110.8 L503.5 120 L541 120Z" fill="#e6fcff"/>
<path d="M541.8 97C541.8 95.7 542.4 91.4 541.8 89.2C541.2 87 540.5 84.8 538.4 83.6C536.3 82.4 532.8 82.4 529.4 82C526 81.6 520.9 81.4 518 81.3C515.1 81.2 514.4 81.1 512 81.2C509.6 81.3 506.5 81.5 503.7 81.7C500.9 81.9 497.6 82.2 495.4 82.2C493.2 82.2 491.6 82.4 490.3 81.7C489 81 488.1 78.4 487.7 78.1C487.3 77.8 487.4 78.6 487.7 79.6C487.9 80.5 488.2 82.2 489.2 83.8C490.1 85.4 492.4 87.3 493.4 89C494.4 90.7 494.5 92.7 495.4 94.1C496.2 95.5 497.3 96 498.5 97.2C499.7 98.4 502.2 100.1 502.7 101.4C503.2 102.7 501.4 103.5 501.5 105.1C501.6 106.7 503 109.8 503.3 110.8" class="cn"/>
<path d="M467.5 53.3C467.8 54.1 469.1 56.2 469.1 58C469.1 59.8 468.1 62.3 467.5 64.2C466.9 66.1 465.8 68.5 465.4 69.4" class="cn"/>
<g transform="translate(475.9 64.6) rotate(-74)"><rect x="-9.1" y="-3.2" width="18.3" height="6.4" fill="none"/><text x="0" y="3.4" text-anchor="middle" style="font-size:9.6px;fill:#000">−3.0</text></g>
<path d="M453.4 30.3 L461 30.3 L461.4 48 L462.4 52 L464.6 70 L465.8 76 L466.8 96 L468 104.5 L468 111.4 L470.6 111.4 L470.6 118.6 L453.4 118.6Z" fill="#7f7f7f"/>
<path d="M474.1 118.6 L474.1 111.4 L475.8 111.4 L475.8 103.3 L476.7 103.3 L476.7 95 L477.5 95 L477.5 103.3 L479.9 103.3 L479.9 111.4 L489.9 111.4 L489.9 103.3 L493 103.3 L493 111.4 L495.1 111.4 L495.1 118.6Z" fill="#7f7f7f"/>
<path d="M500.5 118.6 L500.5 111.4 L511.3 111.4 L511.3 95.5 L516.8 95.5 L516.8 111.4 L518.9 111.4 L518.9 118.6Z" fill="#7f7f7f"/>
<path d="M522.5 118.6 L522.5 111.4 L523.7 111.4 L523.7 118.6Z" fill="#7f7f7f"/>
<path d="M537 118.6 L537 111.9 L538 111.9 L538 103.6 L541 103.6 L541 95.5 L547 95.5 L547 81.2 L550.5 81.2 L550.5 68.3 L561.3 68.3 L561.3 87.2 L570.6 87.2 L570.6 118.6Z" fill="#7f7f7f"/>
</g>
<path class="fr" d="M453.4 30.3 H570.9 V118.6"/>
<path class="ax" d="M453.4 30.3 V118.6 H570.9M453.4 30.3h-4.4M453.4 37.7h-2.4M453.4 45h-4.4M453.4 52.4h-2.4M453.4 59.7h-4.4M453.4 67.1h-2.4M453.4 74.5h-4.4M453.4 81.8h-2.4M453.4 89.2h-4.4M453.4 96.5h-2.4M453.4 103.9h-4.4M453.4 111.2h-2.4M453.4 118.6h-4.4M459.2 118.6v3.8M472.4 118.6v3.8M485.6 118.6v3.8M498.8 118.6v3.8M512 118.6v3.8M525.2 118.6v3.8M538.4 118.6v3.8M551.6 118.6v3.8M564.8 118.6v3.8"/>
<text class="tk" x="459.5" y="132.4" text-anchor="middle">80°S</text>
<text class="tk" x="485.9" y="132.4" text-anchor="middle">40°S</text>
<text class="tk" x="512.3" y="132.4" text-anchor="middle">0°</text>
<text class="tk" x="538.7" y="132.4" text-anchor="middle">40°N</text>
<text class="tk" x="565.1" y="132.4" text-anchor="middle">80°N</text>
<rect x="577.3" y="30.3" width="9.7" height="4.5" fill="#c41030"/>
<rect x="577.3" y="34.7" width="9.7" height="4.5" fill="#e41e38"/>
<rect x="577.3" y="39.1" width="9.7" height="4.5" fill="#f52c37"/>
<rect x="577.3" y="43.5" width="9.7" height="4.5" fill="#f9423d"/>
<rect x="577.3" y="48" width="9.7" height="4.5" fill="#fb6648"/>
<rect x="577.3" y="52.4" width="9.7" height="4.5" fill="#fd9c62"/>
<rect x="577.3" y="56.8" width="9.7" height="4.5" fill="#fdb87e"/>
<rect x="577.3" y="61.2" width="9.7" height="4.5" fill="#ffe2a0"/>
<rect x="577.3" y="65.6" width="9.7" height="4.5" fill="#fff5c2"/>
<rect x="577.3" y="70" width="9.7" height="4.5" fill="#fffeea"/>
<rect x="577.3" y="74.5" width="9.7" height="4.5" fill="#e6fcff"/>
<rect x="577.3" y="78.9" width="9.7" height="4.5" fill="#c2f5ff"/>
<rect x="577.3" y="83.3" width="9.7" height="4.5" fill="#a0ebff"/>
<rect x="577.3" y="87.7" width="9.7" height="4.5" fill="#80ddff"/>
<rect x="577.3" y="92.1" width="9.7" height="4.5" fill="#60c4fe"/>
<rect x="577.3" y="96.5" width="9.7" height="4.5" fill="#44a2fc"/>
<rect x="577.3" y="100.9" width="9.7" height="4.5" fill="#2e7efc"/>
<rect x="577.3" y="105.4" width="9.7" height="4.5" fill="#1e4efa"/>
<rect x="577.3" y="109.8" width="9.7" height="4.5" fill="#1426f2"/>
<rect x="577.3" y="114.2" width="9.7" height="4.5" fill="#100ce0"/>
<path d="M577.3 30.3h9.7M577.3 34.7h9.7M577.3 39.1h9.7M577.3 43.5h9.7M577.3 48h9.7M577.3 52.4h9.7M577.3 56.8h9.7M577.3 61.2h9.7M577.3 65.6h9.7M577.3 70h9.7M577.3 74.5h9.7M577.3 78.9h9.7M577.3 83.3h9.7M577.3 87.7h9.7M577.3 92.1h9.7M577.3 96.5h9.7M577.3 100.9h9.7M577.3 105.4h9.7M577.3 109.8h9.7M577.3 114.2h9.7M577.3 118.6h9.7" stroke="#100808" stroke-opacity=".8" stroke-width=".6" fill="none"/>
<rect x="577.3" y="30.3" width="9.7" height="88.3" fill="none" stroke="#222" stroke-width=".5"/>
<text class="tk" x="589.4" y="33">10</text>
<text class="tk" x="589.4" y="41.8">8</text>
<text class="tk" x="589.4" y="50.7">6</text>
<text class="tk" x="589.4" y="59.5">4</text>
<text class="tk" x="589.4" y="68.3">2</text>
<text class="tk" x="589.4" y="77.2">0</text>
<text class="tk" x="588.6" y="86">−<tspan dx="1.1">2</tspan></text>
<text class="tk" x="588.6" y="94.8">−<tspan dx="1.1">4</tspan></text>
<text class="tk" x="588.6" y="103.6">−<tspan dx="1.1">6</tspan></text>
<text class="tk" x="588.6" y="112.5">−<tspan dx="1.1">8</tspan></text>
<text class="tk" x="588.6" y="121.3">−<tspan dx="1.1">10</tspan></text>
<g clip-path="url(#c10)">
<rect x="37.6" y="155.9" width="117.5" height="88.3" fill="#fffeea"/>
<path d="M44 154.5C28.1 156.1 44.6 160.8 44.8 163.9C44.9 167.1 45 173.2 45.2 173.5C45.4 173.8 45.7 168 46 165.9C46.2 163.8 46.4 162 46.9 161C47.4 160 48.3 159.8 48.9 160C49.6 160.1 50.3 161 50.9 162C51.6 162.9 52.1 164.5 52.9 165.9C53.7 167.3 54.9 170 55.9 170.3C56.9 170.6 57.9 168.8 58.9 167.9C59.9 167 60.4 165.3 61.9 164.9C63.4 164.5 65.5 165.6 67.8 165.5C70.2 165.4 72.8 164.3 75.8 164.3C78.8 164.4 82.4 165.3 85.8 165.9C89.1 166.5 92.4 167.9 95.7 167.9C99 167.9 102.3 166.1 105.7 165.9C109 165.8 112.9 166.3 115.6 166.9C118.3 167.5 119.3 169 121.6 169.5C123.9 170 127.2 170 129.5 169.9C131.9 169.8 133.8 169.1 135.5 168.9C137.2 168.7 138.7 171.3 139.5 168.9C140.2 166.5 155.9 156.9 140 154.5C124.1 152.1 59.9 152.9 44 154.5Z" fill="#fff5c2" class="cp" style="fill:#fff5c2"/>
<path d="M50.7 158.6C50.7 158.9 50.6 159.3 50.3 159.5C50.1 159.8 49.7 160 49.4 160.1C49 160.2 48.5 160.2 48.1 160.1C47.8 160 47.4 159.8 47.1 159.5C46.9 159.3 46.7 158.9 46.7 158.6C46.7 158.3 46.9 157.9 47.1 157.6C47.4 157.4 47.8 157.1 48.1 157.1C48.5 157 49 157 49.4 157.1C49.7 157.1 50.1 157.4 50.3 157.6C50.6 157.9 50.7 158.3 50.7 158.6Z" fill="#fffeea" class="cp" style="fill:#fffeea"/>
<path d="M51.5 154.5C36.9 154.7 50.1 155 51.5 155.6C52.9 156.2 57.2 157.2 59.9 158C62.6 158.8 65.2 160.1 67.8 160.4C70.5 160.6 73.1 159.5 75.8 159.6C78.5 159.7 81.1 160.5 83.8 161C86.4 161.4 89.1 162.2 91.7 162.3C94.4 162.5 97.4 162.3 99.7 162C102 161.6 103 160.2 105.7 160.4C108.3 160.5 112.6 162.3 115.6 162.9C118.6 163.6 120.9 164.2 123.6 164.3C126.2 164.5 128.9 164.2 131.5 163.9C134.2 163.7 138.2 164.5 139.5 162.9C140.8 161.4 154.1 155.9 139.5 154.5C124.8 153.1 66.2 154.3 51.5 154.5Z" fill="#ffe2a0" class="cp" style="fill:#ffe2a0"/>
<path d="M85.8 154.5C76.8 154.7 84.4 155 85.8 155.6C87.1 156.2 91.1 157.6 93.7 158C96.4 158.3 99.3 157.4 101.7 157.6C104 157.7 105.3 158.5 107.6 159C110 159.4 112.6 160 115.6 160.4C118.6 160.7 122.6 161 125.6 161C128.5 161 131.2 160.7 133.5 160.4C135.8 160 138.5 159.9 139.5 159C140.5 158 148.4 155.2 139.5 154.5C130.5 153.8 94.7 154.3 85.8 154.5Z" fill="#fdb87e" class="cp" style="fill:#fdb87e"/>
<path d="M108.6 154.5C103.5 154.7 107.5 155.1 108.6 155.6C109.8 156.1 113.1 157.1 115.6 157.6C118.1 158.1 120.9 158.3 123.6 158.6C126.2 158.8 128.9 159.1 131.5 159C134.2 158.8 138.2 158.3 139.5 157.6C140.8 156.8 144.6 155 139.5 154.5C134.3 154 113.8 154.3 108.6 154.5Z" fill="#fd9c62" class="cp" style="fill:#fd9c62"/>
<path d="M115.6 154.5C111.6 154.7 114.6 155.2 115.6 155.6C116.6 156 119.3 156.6 121.6 157C123.9 157.3 127.2 157.7 129.5 157.8C131.9 157.8 133.8 157.4 135.5 157.2C137.2 156.9 138.8 156.8 139.5 156.4C140.1 155.9 143.5 154.8 139.5 154.5C135.5 154.2 119.6 154.3 115.6 154.5Z" fill="#fb6648" class="cp" style="fill:#fb6648"/>
<path d="M126 154.5C123.7 154.7 125 155.2 126 155.6C126.9 155.9 129.8 156.4 131.5 156.6C133.3 156.7 135.2 156.5 136.5 156.4C137.8 156.2 139 156.1 139.5 155.8C140 155.5 141.7 154.7 139.5 154.5C137.2 154.3 128.2 154.3 126 154.5Z" fill="#f9423d" class="cp" style="fill:#f9423d"/>
<path d="M37.6 155.9 L45.1 155.9 L45.5 172 L46.9 195 L47.4 220.7 L48.8 220.7 L48.8 228.4 L52.2 228.4 L52.2 236.7 L66.4 236.7 L66.4 244.2 L37.6 244.2Z" fill="#7f7f7f"/>
<path d="M82.4 244.2 L82.4 236.7 L91 236.7 L91 244.2Z" fill="#7f7f7f"/>
<path d="M154.8 155.9 L139.2 155.9 L136.9 160.8 L135.8 170 L135.3 188 L133.5 199 L131.2 213 L130.1 222 L129 231 L127.8 238 L127.8 244.2 L154.8 244.2Z" fill="#7f7f7f"/>
</g>
<path class="fr" d="M37.6 155.9 H155.1 V244.2"/>
<path class="ax" d="M37.6 155.9 V244.2 H155.1M37.6 155.9h-4.4M37.6 163.3h-2.4M37.6 170.6h-4.4M37.6 178h-2.4M37.6 185.3h-4.4M37.6 192.7h-2.4M37.6 200.1h-4.4M37.6 207.4h-2.4M37.6 214.8h-4.4M37.6 222.1h-2.4M37.6 229.5h-4.4M37.6 236.8h-2.4M37.6 244.2h-4.4M43.4 244.2v3.8M56.6 244.2v3.8M69.8 244.2v3.8M83 244.2v3.8M96.2 244.2v3.8M109.4 244.2v3.8M122.6 244.2v3.8M135.8 244.2v3.8M149 244.2v3.8"/>
<text class="tk" x="43.7" y="258" text-anchor="middle">80°S</text>
<text class="tk" x="70.1" y="258" text-anchor="middle">40°S</text>
<text class="tk" x="96.5" y="258" text-anchor="middle">0°</text>
<text class="tk" x="122.9" y="258" text-anchor="middle">40°N</text>
<text class="tk" x="149.3" y="258" text-anchor="middle">80°N</text>
<text class="dk" x="29.1" y="158.7" text-anchor="end">0</text>
<text class="dk" x="29.1" y="173.4" text-anchor="end">1000</text>
<text class="dk" x="29.1" y="188.1" text-anchor="end">2000</text>
<text class="dk" x="29.1" y="202.9" text-anchor="end">3000</text>
<text class="dk" x="29.1" y="217.6" text-anchor="end">4000</text>
<text class="dk" x="29.1" y="232.3" text-anchor="end">5000</text>
<text class="dk" x="29.1" y="247" text-anchor="end">6000</text>
<text class="dl" transform="translate(6.4 200.1) rotate(-90)" text-anchor="middle">DEPTH (m)</text>
<g clip-path="url(#c11)">
<rect x="175.9" y="155.9" width="117.5" height="88.3" fill="#fffeea"/>
<path d="M183.2 154.5C167.3 154.7 183.2 154.8 183.5 155.8C183.8 156.8 184.5 158.9 185.1 160.3C185.7 161.8 186.5 163 187.2 164.4C187.8 165.8 188.5 167.3 189.2 168.7C189.9 170.2 190.7 171.6 191.5 173C192.2 174.4 192.8 175.6 193.5 177.1C194.2 178.7 195.1 180.5 195.8 182.3C196.4 184.2 196.9 186.1 197.4 188C197.8 189.9 198.1 192.2 198.5 193.7C198.9 195.2 198.3 196.7 199.9 197.1C201.4 197.5 202.9 196.2 208 196C213.2 195.7 223.1 195.6 230.7 195.5C238.2 195.4 246.2 195.2 253.4 195.3C260.5 195.3 269.5 195.8 273.8 196C278 196.1 278.1 202.9 279 196C279.9 189 295 161.4 279 154.5C263 147.6 199.1 154.3 183.2 154.5Z" fill="#fff5c2" class="cp" style="fill:#fff5c2"/>
<path d="M186.2 154.5C170.8 154.7 186.2 154.8 186.5 155.8C186.8 156.8 187.2 158.2 188.1 160.3C189 162.5 190.6 165.9 191.9 168.7C193.2 171.5 194.8 174.7 195.8 177.1C196.7 179.6 197.1 181.7 197.6 183.5C198.1 185.3 198.1 187.1 198.9 188C199.7 188.9 200.8 188.7 202.3 188.7C203.9 188.7 203.3 188.2 208 188C212.7 187.8 219.7 187.4 230.7 187.3C241.6 187.3 265.7 187.5 273.8 187.6C281.8 187.6 278.1 193.1 279 187.6C279.9 182.1 294.5 160 279 154.5C263.5 149 201.6 154.3 186.2 154.5Z" fill="#ffe2a0" class="cp" style="fill:#ffe2a0"/>
<path d="M189.3 154.5C174.5 154.7 189.3 154.8 189.6 155.8C190 156.8 190.4 158.2 191.2 160.3C192 162.5 193.4 166 194.4 168.7C195.4 171.5 196.6 174.6 197.4 176.7C198.1 178.8 198.1 180.3 198.9 181.2C199.8 182.1 200.8 181.8 202.3 181.9C203.9 182 203.3 181.8 208 181.7C212.7 181.6 219.7 181.3 230.7 181.2C241.6 181.1 265.7 181.2 273.8 181.2C281.8 181.2 278.1 185.7 279 181.2C279.9 176.8 293.9 159 279 154.5C264.1 150 204.2 154.3 189.3 154.5Z" fill="#fdb87e" class="cp" style="fill:#fdb87e"/>
<path d="M192.3 154.5C177.9 154.7 192.3 154.8 192.6 155.8C192.9 156.8 193.7 158.9 194.2 160.3C194.7 161.8 195.1 163 195.5 164.4C196 165.8 196.6 167.3 197.1 168.7C197.6 170.2 198 171.7 198.5 173C199 174.4 198.7 176 200.3 176.7C201.9 177.4 202.9 177.1 208 177.1C213.1 177.1 219.7 176.8 230.7 176.7C241.6 176.6 265.7 176.7 273.8 176.7C281.8 176.7 278.1 180.4 279 176.7C279.9 173 293.5 158.2 279 154.5C264.5 150.8 206.7 154.3 192.3 154.5Z" fill="#fd9c62" class="cp" style="fill:#fd9c62"/>
<path d="M208.9 154.5C197.2 154.4 208.8 153.7 208.9 154.1C209 154.5 209.1 155.7 209.5 157C209.8 158.4 210 160.2 211 162.1C211.9 163.9 213.6 166.4 215.2 167.9C216.7 169.4 217.7 170.1 220.2 170.8C222.7 171.5 227.7 172 230 172.1C232.3 172.2 229.8 171.7 233.7 171.7C237.6 171.7 246.6 172.2 253.6 172.3C260.6 172.4 271.3 172.5 275.5 172.5C279.7 172.5 278.4 175.5 279 172.5C279.6 169.5 290.7 157.5 279 154.5C267.3 151.5 220.6 154.6 208.9 154.5Z" fill="#fb6648" class="cp" style="fill:#fb6648"/>
<path d="M213 154.5C208.5 154.9 225.8 157.4 230 158C234.2 158.7 235.6 158.2 238.4 158.3C241.2 158.4 244.4 158.6 246.8 158.5C249.1 158.5 251.1 158.4 252.6 158C254.1 157.7 255.2 157.1 256 156.6C256.7 156.2 264.1 155.7 257 155.4C249.8 155 217.5 154.1 213 154.5Z" fill="#fd9c62" class="cp" style="fill:#fd9c62"/>
<path d="M235.4 162.5C235.4 161.8 237 160.6 238.4 160.4C239.7 160.2 241.7 160.9 243.4 161.2C245.1 161.6 246.8 162.2 248.4 162.5C250.1 162.7 251.9 163.2 253.5 162.9C255 162.5 256.5 161.2 257.6 160.4C258.8 159.5 259.5 158.7 260.2 157.9C260.8 157 258.1 155.8 261.4 155.4C264.8 154.9 277.1 153 280.3 155.4C283.4 157.7 281.2 166.9 280.3 169.2C279.3 171.5 276.5 169.1 274.4 169.2C272.3 169.2 270.2 169.6 267.7 169.6C265.2 169.6 261.4 169.4 259.3 169.2C257.2 168.9 256.9 168.2 255.1 167.9C253.3 167.6 250.5 167.8 248.4 167.5C246.3 167.2 244.2 166.7 242.6 166.2C240.9 165.7 239.6 165.2 238.4 164.6C237.2 163.9 235.4 163.2 235.4 162.5Z" fill="#f9423d" class="cp" style="fill:#f9423d"/>
<path d="M268.1 155.4C266.2 155.6 268.3 156 268.7 156.6C269 157.2 269.4 157.9 270.2 158.7C271 159.5 272.6 160.5 273.6 161.2C274.5 161.9 274.5 162.5 275.6 162.7C276.8 163 279.5 163.9 280.3 162.7C281 161.5 282.3 156.6 280.3 155.4C278.2 154.1 270 155.1 268.1 155.4Z" fill="#f52c37" class="cp" style="fill:#f52c37"/>
<path d="M264.6 159.7C264.7 159.9 264.7 160.1 264.6 160.3C264.5 160.6 264.3 160.9 264 161.1C263.8 161.4 263.4 161.6 263.1 161.8C262.8 161.9 262.4 162 262.1 162.1C261.9 162.1 261.7 162 261.6 161.9C261.5 161.7 261.5 161.5 261.6 161.2C261.7 161 261.9 160.7 262.2 160.5C262.4 160.2 262.8 160 263.1 159.8C263.4 159.7 263.8 159.5 264 159.5C264.3 159.5 264.5 159.6 264.6 159.7Z" fill="#fb6648" class="cp" style="fill:#fb6648"/>
<path d="M204.5 166.5C204.6 166.9 204.6 167.5 204.5 167.8C204.5 168.2 204.3 168.5 204.1 168.7C204 168.8 203.7 168.9 203.5 168.8C203.3 168.6 203.1 168.4 202.9 168C202.7 167.7 202.6 167.2 202.5 166.8C202.5 166.4 202.5 165.9 202.6 165.5C202.6 165.1 202.8 164.8 202.9 164.6C203.1 164.5 203.3 164.5 203.6 164.6C203.8 164.7 204 165 204.2 165.3C204.3 165.6 204.5 166.1 204.5 166.5Z" fill="#fb6648" class="cp" style="fill:#fb6648"/>
<path d="M218.7 162.4 L221.9 162.6 L226.1 162.4" class="cz"/>
<path d="M234.1 162.6C234.1 162.8 234 163.1 233.8 163.3C233.6 163.5 233.3 163.6 233 163.7C232.7 163.8 232.3 163.8 232 163.7C231.7 163.6 231.4 163.5 231.2 163.3C231 163.1 230.9 162.8 230.9 162.6C230.9 162.4 231 162.1 231.2 162C231.4 161.8 231.7 161.6 232 161.5C232.3 161.5 232.7 161.5 233 161.5C233.3 161.6 233.6 161.8 233.8 162C234 162.1 234.1 162.4 234.1 162.6Z" fill="#f9423d" class="cp" style="fill:#f9423d"/>
<path d="M201.7 176.6C201.8 176.9 201.9 177.3 201.8 177.6C201.7 178 201.4 178.5 201.1 178.8C200.8 179.2 200.3 179.5 199.9 179.7C199.4 179.9 198.9 180 198.5 180C198.1 179.9 197.8 179.7 197.6 179.5C197.4 179.2 197.3 178.8 197.4 178.4C197.5 178.1 197.8 177.6 198.1 177.2C198.5 176.9 199 176.5 199.4 176.4C199.8 176.2 200.4 176.1 200.7 176.1C201.1 176.2 201.5 176.4 201.7 176.6Z" fill="#fd9c62" class="cp" style="fill:#fd9c62"/>
<path d="M201 184.5C201.2 184.8 201.2 185.2 201.1 185.6C201 186 200.8 186.4 200.4 186.8C200.1 187.1 199.6 187.5 199.2 187.7C198.7 187.8 198.2 187.9 197.8 187.9C197.4 187.9 197.1 187.7 196.9 187.4C196.7 187.1 196.7 186.7 196.8 186.4C196.8 186 197.1 185.5 197.4 185.2C197.8 184.8 198.3 184.5 198.7 184.3C199.1 184.1 199.7 184 200.1 184.1C200.4 184.1 200.8 184.3 201 184.5Z" fill="#ffe2a0" class="cp" style="fill:#ffe2a0"/>
<path d="M200.5 192.9C200.7 193.2 200.8 193.6 200.7 194C200.6 194.3 200.3 194.8 200 195.2C199.7 195.5 199.2 195.9 198.7 196C198.3 196.2 197.8 196.3 197.4 196.3C197 196.2 196.6 196 196.4 195.8C196.3 195.5 196.2 195.1 196.3 194.8C196.4 194.4 196.7 193.9 197 193.6C197.3 193.2 197.8 192.9 198.3 192.7C198.7 192.5 199.2 192.4 199.6 192.4C200 192.5 200.4 192.7 200.5 192.9Z" fill="#fff5c2" class="cp" style="fill:#fff5c2"/>
<path d="M188.1 222 L189 223.8" class="cz"/>
<path d="M175.9 155.9 L183.4 155.9 L183.8 172 L185.2 195 L185.7 220.7 L187.1 220.7 L187.1 228.4 L190.5 228.4 L190.5 236.7 L204.7 236.7 L204.7 244.2 L175.9 244.2Z" fill="#7f7f7f"/>
<path d="M220.7 244.2 L220.7 236.7 L229.3 236.7 L229.3 244.2Z" fill="#7f7f7f"/>
<path d="M293.1 155.9 L277.5 155.9 L275.2 160.8 L274.1 170 L273.6 188 L271.8 199 L269.5 213 L268.4 222 L267.3 231 L266.1 238 L266.1 244.2 L293.1 244.2Z" fill="#7f7f7f"/>
</g>
<path class="fr" d="M175.9 155.9 H293.4 V244.2"/>
<path class="ax" d="M175.9 155.9 V244.2 H293.4M175.9 155.9h-4.4M175.9 163.3h-2.4M175.9 170.6h-4.4M175.9 178h-2.4M175.9 185.3h-4.4M175.9 192.7h-2.4M175.9 200.1h-4.4M175.9 207.4h-2.4M175.9 214.8h-4.4M175.9 222.1h-2.4M175.9 229.5h-4.4M175.9 236.8h-2.4M175.9 244.2h-4.4M181.7 244.2v3.8M194.9 244.2v3.8M208.1 244.2v3.8M221.3 244.2v3.8M234.5 244.2v3.8M247.7 244.2v3.8M260.9 244.2v3.8M274.1 244.2v3.8M287.3 244.2v3.8"/>
<text class="tk" x="182" y="258" text-anchor="middle">80°S</text>
<text class="tk" x="208.4" y="258" text-anchor="middle">40°S</text>
<text class="tk" x="234.8" y="258" text-anchor="middle">0°</text>
<text class="tk" x="261.2" y="258" text-anchor="middle">40°N</text>
<text class="tk" x="287.6" y="258" text-anchor="middle">80°N</text>
<g clip-path="url(#c12)">
<rect x="314.5" y="155.9" width="117.5" height="88.3" fill="#e6fcff"/>
<path d="M322.9 154.5C307.3 154.7 322.7 154.4 322.9 155.8C323 157.2 323.3 162.4 323.8 163.1C324.3 163.7 325.2 159.5 326.1 159.7C326.9 159.9 327.6 162.3 329 164.2C330.4 166.1 333.4 170.6 334.7 171C336 171.4 335.4 166.8 336.9 166.5C338.5 166.1 341.5 168.7 343.7 168.7C346 168.7 348.3 167.5 350.5 166.5C352.8 165.5 355.3 163.4 357.4 162.6C359.4 161.9 361.1 161.3 363 161.9C364.9 162.6 366.8 165.1 368.7 166.5C370.6 167.8 372.5 169.5 374.4 169.9C376.2 170.3 378.5 169.1 380 168.7C381.5 168.4 382.7 167 383.4 167.6C384.2 168.2 383.6 171.2 384.6 172.1C385.5 173.1 387.2 172.5 389.1 173.3C391 174 393.3 176 395.9 176.7C398.5 177.3 402.3 176.9 405 177.1C407.6 177.3 409.9 177.7 411.8 177.8C413.7 177.9 415.6 181.7 416.3 177.8C417.1 173.9 431.9 158.4 416.3 154.5C400.7 150.6 338.5 154.3 322.9 154.5Z" fill="#c2f5ff" class="cn" style="fill:#c2f5ff"/>
<path d="M338.8 154.5C325.8 154.7 337.5 155.1 338.8 155.8C340 156.5 342.9 157.9 346 158.5C349.1 159.2 353.6 159.4 357.4 159.7C361.1 160 364.9 160.5 368.7 160.3C372.5 160.2 376.2 158.6 380 158.5C383.8 158.4 388.5 159.1 391.4 159.7C394.2 160.2 395.7 160.6 397 161.9C398.4 163.3 398.5 165.9 399.3 167.6C400.1 169.3 399.9 171.4 401.6 172.1C403.3 172.9 407.6 172.3 409.5 172.1C411.4 172 411.8 171.4 412.9 171C414 170.6 415.7 172.6 416.3 169.9C416.9 167.1 429.2 157.1 416.3 154.5C403.4 151.9 351.7 154.3 338.8 154.5Z" fill="#a0ebff" class="cn" style="fill:#a0ebff"/>
<path d="M370.5 154.5C362.9 154.7 368.9 155.3 370.5 155.8C372.1 156.3 376.6 157.1 380 157.4C383.5 157.7 387.6 156.9 391.4 157.4C395.1 157.9 399.3 159.8 402.7 160.3C406.1 160.9 409.5 160.8 411.8 160.8C414 160.8 415.6 161.4 416.3 160.3C417.1 159.3 423.9 155.5 416.3 154.5C408.7 153.5 378.1 154.3 370.5 154.5Z" fill="#80ddff" class="cn" style="fill:#80ddff"/>
<path d="M402.7 154.5C400.4 154.7 401.8 155.4 402.7 155.8C403.6 156.3 406.1 156.9 408.4 157.2C410.6 157.4 415 157.6 416.3 157.2C417.6 156.7 418.6 154.9 416.3 154.5C414 154.1 405 154.3 402.7 154.5Z" fill="#60c4fe" class="cn" style="fill:#60c4fe"/>
<path d="M314.5 155.9 L322 155.9 L322.4 172 L323.8 195 L324.3 220.7 L325.7 220.7 L325.7 228.4 L329.1 228.4 L329.1 236.7 L343.3 236.7 L343.3 244.2 L314.5 244.2Z" fill="#7f7f7f"/>
<path d="M359.3 244.2 L359.3 236.7 L367.9 236.7 L367.9 244.2Z" fill="#7f7f7f"/>
<path d="M431.7 155.9 L416.1 155.9 L413.8 160.8 L412.7 170 L412.2 188 L410.4 199 L408.1 213 L407 222 L405.9 231 L404.7 238 L404.7 244.2 L431.7 244.2Z" fill="#7f7f7f"/>
</g>
<path class="fr" d="M314.5 155.9 H432 V244.2"/>
<path class="ax" d="M314.5 155.9 V244.2 H432M314.5 155.9h-4.4M314.5 163.3h-2.4M314.5 170.6h-4.4M314.5 178h-2.4M314.5 185.3h-4.4M314.5 192.7h-2.4M314.5 200.1h-4.4M314.5 207.4h-2.4M314.5 214.8h-4.4M314.5 222.1h-2.4M314.5 229.5h-4.4M314.5 236.8h-2.4M314.5 244.2h-4.4M320.3 244.2v3.8M333.5 244.2v3.8M346.7 244.2v3.8M359.9 244.2v3.8M373.1 244.2v3.8M386.3 244.2v3.8M399.5 244.2v3.8M412.7 244.2v3.8M425.9 244.2v3.8"/>
<text class="tk" x="320.6" y="258" text-anchor="middle">80°S</text>
<text class="tk" x="347" y="258" text-anchor="middle">40°S</text>
<text class="tk" x="373.4" y="258" text-anchor="middle">0°</text>
<text class="tk" x="399.8" y="258" text-anchor="middle">40°N</text>
<text class="tk" x="426.2" y="258" text-anchor="middle">80°N</text>
<g clip-path="url(#c13)">
<rect x="453.4" y="155.9" width="117.5" height="88.3" fill="#a0ebff"/>
<path d="M461.8 154.5C446 154.7 461.7 155.1 461.8 155.8C461.9 156.5 461.8 156.9 462.5 158.5C463.2 160.1 464.4 162.7 465.9 165.3C467.4 168 470.2 171.6 471.5 174.4C472.9 177.2 472.5 179.9 473.8 182.3C475.1 184.8 477.4 187.4 479.5 189.1C481.6 190.8 483.6 191.8 486.3 192.5C488.9 193.3 492 193.4 495.4 193.7C498.8 194 502.9 194.2 506.7 194.4C510.5 194.6 514.2 194.7 518 194.8C521.8 194.9 525.6 194.9 529.4 194.8C533.1 194.7 537.3 194.2 540.7 194.4C544.1 194.6 547.1 195.7 549.8 196C552.4 196.2 555.4 202.9 556.6 196C557.7 189 572.4 161.4 556.6 154.5C540.8 147.6 477.6 154.3 461.8 154.5Z" fill="#80ddff" class="cn" style="fill:#80ddff"/>
<path d="M483.6 154.5C471.4 154.7 483.1 154.4 483.6 155.8C484 157.2 485.6 160.3 486.3 163.1C486.9 165.8 487 169.9 487.4 172.1C487.8 174.4 487.2 175 488.5 176.7C489.9 178.4 492.7 180.8 495.4 182.3C498 183.9 500.6 184.9 504.4 185.7C508.2 186.6 513.9 187.2 518 187.6C522.2 187.9 525.6 188.1 529.4 188C533.1 187.9 537.1 186.9 540.7 186.9C544.3 186.9 548.3 187.8 550.9 188C553.6 188.2 555.6 193.6 556.6 188C557.5 182.4 568.7 160.1 556.6 154.5C544.4 148.9 495.7 154.3 483.6 154.5Z" fill="#60c4fe" class="cn" style="fill:#60c4fe"/>
<path d="M496 154.5C485.9 154.7 495.2 154.2 496 155.8C496.9 157.4 500 161.5 501 164.2C502 166.9 500.8 170.1 502.2 172.1C503.5 174.2 506.3 175.7 509 176.7C511.6 177.6 515 177.4 518 177.8C521.1 178.2 525.4 178.4 527.1 178.9C528.8 179.5 526.7 181.6 528.2 181.2C529.7 180.8 533.3 177.6 536.2 176.7C539 175.7 542.8 175.5 545.2 175.5C547.7 175.5 549 176.5 550.9 176.7C552.8 176.9 555.6 180.4 556.6 176.7C557.5 173 566.7 158.2 556.6 154.5C546.5 150.8 506.1 154.3 496 154.5Z" fill="#44a2fc" class="cn" style="fill:#44a2fc"/>
<path d="M529.8 154.5C525.4 154.7 531 154.6 529.8 155.8C528.6 157.1 524.5 160.5 522.6 161.9C520.6 163.3 518.6 163.6 518 164.2C517.5 164.8 517.6 165.2 519.2 165.8C520.7 166.4 524.3 167.1 527.1 167.6C529.9 168.1 533.1 168.4 536.2 168.7C539.2 169 542.6 169.4 545.2 169.4C547.9 169.4 550.2 168.9 552 168.7C553.9 168.6 555.8 171.1 556.6 168.7C557.3 166.4 561 156.9 556.6 154.5C552.1 152.1 534.3 154.3 529.8 154.5Z" fill="#2e7efc" class="cn" style="fill:#2e7efc"/>
<path d="M535 161.9C535.1 161 538.2 159.3 539.6 159C541 158.7 543.5 159.4 543.4 160.3C543.3 161.3 540.3 164.2 538.9 164.4C537.5 164.7 534.9 162.8 535 161.9Z" fill="#1e4efa" class="cn" style="fill:#1e4efa"/>
<path d="M546.4 154.5C544.7 154.7 545.8 155.2 546.4 155.8C546.9 156.4 548.1 157.6 549.8 158.1C551.5 158.5 555.4 159.1 556.6 158.5C557.7 157.9 558.3 155.2 556.6 154.5C554.9 153.8 548.1 154.3 546.4 154.5Z" fill="#1e4efa" class="cn" style="fill:#1e4efa"/>
<path d="M474.9 200.5C476.3 199 480.6 201.2 484 201.6C487.4 202 492 202.2 495.4 202.8C498.8 203.3 501 204.8 504.4 205C507.8 205.3 512 204.2 515.8 204.3C519.5 204.5 521.8 205.3 527.1 205.7C532.4 206.1 542.6 206.5 547.5 206.6C552.4 206.8 555.1 199.5 556.6 206.6C558.1 213.7 560.7 242.1 556.6 249.2C552.4 256.3 536.4 250.7 531.6 249.2C526.9 247.7 529.7 242.8 528.2 240.2C526.7 237.5 524.3 235.6 522.6 233.4C520.9 231.1 519.9 228.5 518 226.6C516.1 224.7 513.5 223.5 511.2 222C509 220.5 506.7 218.1 504.4 217.5C502.2 216.9 499.5 219.2 497.6 218.6C495.7 218.1 494.6 214.3 493.1 214.1C491.6 213.9 490.1 215.8 488.5 217.5C487 219.2 485.1 223.9 484 224.3C482.9 224.7 482.7 220.1 481.7 219.8C480.8 219.4 479.3 223.5 478.3 222C477.4 220.5 476.6 214.3 476.1 210.7C475.5 207.1 473.6 202 474.9 200.5Z" fill="#c2f5ff" class="cn" style="fill:#c2f5ff"/>
<g transform="translate(516 204.6) rotate(0)"><rect x="-8.9" y="-3.2" width="17.9" height="6.4" fill="#c2f5ff"/><text x="0" y="3.3" text-anchor="middle" style="font-size:9.4px;fill:#000">−2.0</text></g>
<path d="M453.4 155.9 L460.9 155.9 L461.3 172 L462.7 195 L463.2 220.7 L464.6 220.7 L464.6 228.4 L468 228.4 L468 236.7 L482.2 236.7 L482.2 244.2 L453.4 244.2Z" fill="#7f7f7f"/>
<path d="M498.2 244.2 L498.2 236.7 L506.8 236.7 L506.8 244.2Z" fill="#7f7f7f"/>
<path d="M570.6 155.9 L555 155.9 L552.7 160.8 L551.6 170 L551.1 188 L549.3 199 L547 213 L545.9 222 L544.8 231 L543.6 238 L543.6 244.2 L570.6 244.2Z" fill="#7f7f7f"/>
</g>
<path class="fr" d="M453.4 155.9 H570.9 V244.2"/>
<path class="ax" d="M453.4 155.9 V244.2 H570.9M453.4 155.9h-4.4M453.4 163.3h-2.4M453.4 170.6h-4.4M453.4 178h-2.4M453.4 185.3h-4.4M453.4 192.7h-2.4M453.4 200.1h-4.4M453.4 207.4h-2.4M453.4 214.8h-4.4M453.4 222.1h-2.4M453.4 229.5h-4.4M453.4 236.8h-2.4M453.4 244.2h-4.4M459.2 244.2v3.8M472.4 244.2v3.8M485.6 244.2v3.8M498.8 244.2v3.8M512 244.2v3.8M525.2 244.2v3.8M538.4 244.2v3.8M551.6 244.2v3.8M564.8 244.2v3.8"/>
<text class="tk" x="459.5" y="258" text-anchor="middle">80°S</text>
<text class="tk" x="485.9" y="258" text-anchor="middle">40°S</text>
<text class="tk" x="512.3" y="258" text-anchor="middle">0°</text>
<text class="tk" x="538.7" y="258" text-anchor="middle">40°N</text>
<text class="tk" x="565.1" y="258" text-anchor="middle">80°N</text>
<rect x="577.3" y="155.9" width="9.7" height="4.5" fill="#c41030"/>
<rect x="577.3" y="160.3" width="9.7" height="4.5" fill="#e41e38"/>
<rect x="577.3" y="164.7" width="9.7" height="4.5" fill="#f52c37"/>
<rect x="577.3" y="169.1" width="9.7" height="4.5" fill="#f9423d"/>
<rect x="577.3" y="173.6" width="9.7" height="4.5" fill="#fb6648"/>
<rect x="577.3" y="178" width="9.7" height="4.5" fill="#fd9c62"/>
<rect x="577.3" y="182.4" width="9.7" height="4.5" fill="#fdb87e"/>
<rect x="577.3" y="186.8" width="9.7" height="4.5" fill="#ffe2a0"/>
<rect x="577.3" y="191.2" width="9.7" height="4.5" fill="#fff5c2"/>
<rect x="577.3" y="195.6" width="9.7" height="4.5" fill="#fffeea"/>
<rect x="577.3" y="200.1" width="9.7" height="4.5" fill="#e6fcff"/>
<rect x="577.3" y="204.5" width="9.7" height="4.5" fill="#c2f5ff"/>
<rect x="577.3" y="208.9" width="9.7" height="4.5" fill="#a0ebff"/>
<rect x="577.3" y="213.3" width="9.7" height="4.5" fill="#80ddff"/>
<rect x="577.3" y="217.7" width="9.7" height="4.5" fill="#60c4fe"/>
<rect x="577.3" y="222.1" width="9.7" height="4.5" fill="#44a2fc"/>
<rect x="577.3" y="226.5" width="9.7" height="4.5" fill="#2e7efc"/>
<rect x="577.3" y="231" width="9.7" height="4.5" fill="#1e4efa"/>
<rect x="577.3" y="235.4" width="9.7" height="4.5" fill="#1426f2"/>
<rect x="577.3" y="239.8" width="9.7" height="4.5" fill="#100ce0"/>
<path d="M577.3 155.9h9.7M577.3 160.3h9.7M577.3 164.7h9.7M577.3 169.1h9.7M577.3 173.6h9.7M577.3 178h9.7M577.3 182.4h9.7M577.3 186.8h9.7M577.3 191.2h9.7M577.3 195.6h9.7M577.3 200.1h9.7M577.3 204.5h9.7M577.3 208.9h9.7M577.3 213.3h9.7M577.3 217.7h9.7M577.3 222.1h9.7M577.3 226.5h9.7M577.3 231h9.7M577.3 235.4h9.7M577.3 239.8h9.7M577.3 244.2h9.7" stroke="#100808" stroke-opacity=".8" stroke-width=".6" fill="none"/>
<rect x="577.3" y="155.9" width="9.7" height="88.3" fill="none" stroke="#222" stroke-width=".5"/>
<text class="tk" x="589.4" y="158.6">10</text>
<text class="tk" x="589.4" y="167.4">8</text>
<text class="tk" x="589.4" y="176.3">6</text>
<text class="tk" x="589.4" y="185.1">4</text>
<text class="tk" x="589.4" y="193.9">2</text>
<text class="tk" x="589.4" y="202.8">0</text>
<text class="tk" x="588.6" y="211.6">−<tspan dx="1.1">2</tspan></text>
<text class="tk" x="588.6" y="220.4">−<tspan dx="1.1">4</tspan></text>
<text class="tk" x="588.6" y="229.2">−<tspan dx="1.1">6</tspan></text>
<text class="tk" x="588.6" y="238.1">−<tspan dx="1.1">8</tspan></text>
<text class="tk" x="588.6" y="246.9">−<tspan dx="1.1">10</tspan></text>
<g clip-path="url(#c20)">
<rect x="37.6" y="281.2" width="117.5" height="88.3" fill="#fffeea"/>
<path d="M48.3 280C37.3 280 48.1 279.2 48.3 279.9C48.5 280.7 49.1 283.8 49.5 284.6C49.8 285.4 49.8 284.4 50.4 284.8C51 285.2 52 286.2 53 287.1C54 288.1 55.3 289.3 56.4 290.6C57.6 292 58.8 293.7 59.9 295.3C61.1 296.8 62.3 298.7 63.4 299.9C64.6 301.1 65.9 302.2 66.9 302.2C67.9 302.2 68.5 301.3 69.2 299.9C69.9 298.5 70.4 295.8 71 294.1C71.5 292.4 72 290.6 72.7 289.4C73.4 288.3 74.1 287.4 75 287.1C76 286.8 77.3 287.2 78.5 287.7C79.7 288.2 81 289.1 82 290C83 291 83.1 292.4 84.3 293.5C85.5 294.6 87.2 295.6 89 296.4C90.7 297.2 92.6 298 94.8 298.2C96.9 298.3 99.4 297.9 101.7 297.6C104 297.3 106.6 296.7 108.7 296.4C110.8 296.1 113.5 298.6 114.5 295.8C115.5 293.1 125.5 282.6 114.5 280C103.5 277.4 59.4 280 48.3 280Z" fill="#fff5c2" class="cp" style="fill:#fff5c2"/>
<path d="M48.3 280C37.3 280 48.1 279.6 48.3 279.9C48.5 280.3 49.1 281.6 49.5 282C49.8 282.4 49.6 282.1 50.4 282.3C51.2 282.4 52.9 282.5 54.1 283.1C55.3 283.6 56.4 284.3 57.6 285.4C58.8 286.4 59.9 288.4 61.1 289.4C62.3 290.5 63.4 291.2 64.6 291.8C65.7 292.4 67.1 293.2 68.1 292.9C69 292.6 69.7 291.3 70.4 290C71.1 288.8 71.4 286.5 72.1 285.4C72.8 284.2 73.6 283.5 74.4 283.1C75.3 282.6 76.3 282.4 77.3 282.5C78.4 282.6 79.5 283 80.8 283.6C82.2 284.3 83.9 285.7 85.5 286.5C87 287.4 88.4 288.3 90.1 288.9C91.9 289.4 94 289.8 95.9 290C97.9 290.3 99.8 290.4 101.7 290.4C103.7 290.3 105.4 289.8 107.5 289.7C109.7 289.5 113.3 291.1 114.5 289.4C115.7 287.8 125.5 281.6 114.5 280C103.5 278.4 59.4 280 48.3 280Z" fill="#ffe2a0" class="cp" style="fill:#ffe2a0"/>
<path d="M55.3 280C52.5 280 54.7 279.7 55.3 280.2C55.9 280.7 57.6 282.1 58.8 283.1C59.9 284 61.1 285 62.3 286C63.4 286.9 64.8 288.3 65.7 288.9C66.7 289.4 67.4 289.6 68.1 289.2C68.7 288.8 69.3 287.6 69.8 286.5C70.3 285.5 70.6 284.1 71 283.1C71.3 282 71.6 280.7 71.8 280.2C71.9 279.7 74.5 280 71.8 280C69 280 58 280 55.3 280Z" fill="#fdae72" class="cp" style="fill:#fdae72"/>
<path d="M84.9 280C80 280 84 279.7 84.9 280.2C85.8 280.7 88.3 282.4 90.1 283.1C92 283.7 93.8 283.7 95.9 283.9C98 284.1 100.8 284.3 102.9 284.2C105 284.2 106.8 283.6 108.7 283.6C110.6 283.7 113.5 285.2 114.5 284.6C115.5 284 119.4 280.8 114.5 280C109.6 279.2 89.8 280 84.9 280Z" fill="#fdb87e" class="cp" style="fill:#fdb87e"/>
<path d="M113.1 283.9C113.1 284.2 113 284.7 112.7 285C112.5 285.3 112.2 285.5 111.8 285.6C111.5 285.8 111 285.8 110.7 285.6C110.3 285.5 110 285.3 109.7 285C109.5 284.7 109.4 284.2 109.4 283.9C109.4 283.5 109.5 283.1 109.7 282.8C110 282.5 110.3 282.2 110.7 282.1C111 282 111.5 282 111.8 282.1C112.2 282.2 112.5 282.5 112.7 282.8C113 283.1 113.1 283.5 113.1 283.9Z" fill="#fd9c62" class="cp" style="fill:#fd9c62"/>
<path d="M50.6 290 L50.6 298.2" class="cz"/>
<path d="M37.6 281.2 L50.1 281.2 L50.5 301.7 L51 317.5 L52.3 318.7 L52.3 344.8 L53.5 345.9 L53.5 361.8 L55.8 361.8 L55.8 369.5 L37.6 369.5Z" fill="#7f7f7f"/>
<path d="M62.1 369.5 L62.1 361.8 L74.1 361.8 L74.1 353.8 L77.2 353.8 L77.2 361.8 L79.2 361.8 L79.2 369.5Z" fill="#7f7f7f"/>
<path d="M87 369.5 L87 361.8 L93.9 361.8 L93.9 353.8 L98.8 353.8 L98.8 345.7 L105.2 345.7 L106.3 335.7 L107.4 324.4 L109.7 317.5 L110.8 313 L111.5 301.7 L112 281.2 L154.8 281.2 L154.8 369.5Z" fill="#7f7f7f"/>
</g>
<path class="fr" d="M37.6 281.2 H155.1 V369.5"/>
<path class="ax" d="M37.6 281.2 V369.5 H155.1M37.6 281.2h-4.4M37.6 288.6h-2.4M37.6 295.9h-4.4M37.6 303.3h-2.4M37.6 310.6h-4.4M37.6 318h-2.4M37.6 325.3h-4.4M37.6 332.7h-2.4M37.6 340.1h-4.4M37.6 347.4h-2.4M37.6 354.8h-4.4M37.6 362.1h-2.4M37.6 369.5h-4.4M43.4 369.5v3.8M56.6 369.5v3.8M69.8 369.5v3.8M83 369.5v3.8M96.2 369.5v3.8M109.4 369.5v3.8M122.6 369.5v3.8M135.8 369.5v3.8M149 369.5v3.8"/>
<text class="tk" x="43.7" y="383.3" text-anchor="middle">80°S</text>
<text class="tk" x="70.1" y="383.3" text-anchor="middle">40°S</text>
<text class="tk" x="96.5" y="383.3" text-anchor="middle">0°</text>
<text class="tk" x="122.9" y="383.3" text-anchor="middle">40°N</text>
<text class="tk" x="149.3" y="383.3" text-anchor="middle">80°N</text>
<text class="dk" x="29.1" y="284" text-anchor="end">0</text>
<text class="dk" x="29.1" y="298.7" text-anchor="end">1000</text>
<text class="dk" x="29.1" y="313.4" text-anchor="end">2000</text>
<text class="dk" x="29.1" y="328.1" text-anchor="end">3000</text>
<text class="dk" x="29.1" y="342.9" text-anchor="end">4000</text>
<text class="dk" x="29.1" y="357.6" text-anchor="end">5000</text>
<text class="dk" x="29.1" y="372.3" text-anchor="end">6000</text>
<text class="dl" transform="translate(6.4 325.3) rotate(-90)" text-anchor="middle">DEPTH (m)</text>
<g clip-path="url(#c21)">
<rect x="175.9" y="281.2" width="117.5" height="88.3" fill="#fffeea"/>
<path d="M186.5 280C175.5 280.1 186.3 278.3 186.5 280.8C186.7 283.3 187.1 292.3 187.6 294.9C188.1 297.4 188.9 294.9 189.4 296C190 297.1 190.4 299.2 191 301.7C191.6 304.1 192.3 308.1 193.3 310.7C194.2 313.4 195.4 315.8 196.7 317.5C198 319.2 199.3 320.6 201.2 321C203.1 321.3 205.7 319.8 208 319.8C210.3 319.8 212.5 320.2 214.8 321C217.1 321.7 219.5 323.2 221.6 324.4C223.7 325.5 225.8 326.6 227.3 327.8C228.8 328.9 229.6 331.3 230.7 331.2C231.8 331 232.6 327.2 234.1 326.6C235.6 326.1 237.7 327.2 239.8 327.8C241.8 328.3 244.5 329.5 246.6 330C248.6 330.5 251.3 339 252.2 330.7C253.2 322.4 263.2 288.5 252.2 280C241.3 271.5 197.4 279.9 186.5 280Z" fill="#fff5c2" class="cp" style="fill:#fff5c2"/>
<path d="M186.5 280C175.5 280.1 186.3 279.2 186.5 280.8C186.7 282.5 187 288.3 187.6 289.9C188.2 291.5 188.9 288.6 189.9 290.3C190.8 292.1 192.1 297.7 193.3 300.5C194.4 303.4 195.2 305.3 196.7 307.3C198.2 309.4 200.1 311.8 202.3 313C204.6 314.3 207.8 314.4 210.3 314.8C212.7 315.2 214.8 315 217.1 315.3C219.4 315.5 221.2 316.3 223.9 316.4C226.5 316.5 229.9 315.8 233 316C236 316.2 239.6 317.2 242 317.5C244.5 317.9 246 317.9 247.7 318C249.4 318.1 251.5 324.3 252.2 318C253 311.7 263.2 286.3 252.2 280C241.3 273.7 197.4 279.9 186.5 280Z" fill="#ffe2a0" class="cp" style="fill:#ffe2a0"/>
<path d="M186.5 280C175.5 280.1 186.3 279.5 186.5 280.8C186.7 282.1 187 286.4 187.6 287.6C188.2 288.8 189.2 286.5 190.3 288.1C191.5 289.7 193 294.5 194.4 297.1C195.8 299.8 197.4 302.2 198.9 303.9C200.5 305.6 201.6 306.6 203.5 307.3C205.4 308.1 208 308.2 210.3 308.5C212.5 308.7 214.4 308.7 217.1 308.9C219.7 309.2 223.1 309.6 226.2 309.8C229.2 310.1 231.4 310.1 235.2 310.3C239 310.4 246 310.7 248.8 310.7C251.7 310.8 251.7 315.9 252.2 310.7C252.8 305.6 263.2 285.1 252.2 280C241.3 274.9 197.4 279.9 186.5 280Z" fill="#fdb87e" class="cp" style="fill:#fdb87e"/>
<path d="M186.5 280C175.5 280.1 186.2 279.9 186.5 280.8C186.7 281.7 187.3 284.5 188.1 285.3C188.8 286.2 189.8 284.4 191 285.8C192.3 287.2 194 291.3 195.5 293.7C197.1 296.2 198.4 298.9 200.1 300.5C201.8 302.2 203.3 302.8 205.7 303.5C208.2 304.1 211.8 304.2 214.8 304.4C217.8 304.5 220.5 304.3 223.9 304.4C227.3 304.5 231.1 304.7 235.2 304.9C239.4 305 246 305.2 248.8 305.3C251.7 305.4 251.7 309.5 252.2 305.3C252.8 301.1 263.2 284.2 252.2 280C241.3 275.8 197.4 279.9 186.5 280Z" fill="#fd9c62" class="cp" style="fill:#fd9c62"/>
<path d="M187.2 280C176.3 280.1 186.8 280.3 187.2 280.8C187.5 281.3 188.1 282.6 189 283.1C189.8 283.5 190.9 282.3 192.1 283.5C193.4 284.7 195.2 288.1 196.7 290.3C198.2 292.6 199.5 295.4 201.2 297.1C202.9 298.8 204.6 299.8 206.9 300.5C209.1 301.3 211.6 301.5 214.8 301.7C218 301.8 222.4 301.4 226.2 301.4C229.9 301.4 233.7 301.6 237.5 301.7C241.3 301.8 246.4 302.1 248.8 302.1C251.3 302.2 251.7 305.8 252.2 302.1C252.8 298.4 263.1 283.7 252.2 280C241.4 276.3 198 279.9 187.2 280Z" fill="#fb6648" class="cp" style="fill:#fb6648"/>
<path d="M189.9 280C179.5 280.1 189.3 280.1 189.9 280.4C190.4 280.6 192 280.4 193.3 281.7C194.6 283 196.3 286.1 197.8 288.1C199.3 290.1 200.6 292.1 202.3 293.7C204 295.4 205.9 297.1 208 298C210.1 299 212.5 299 214.8 299.2C217.1 299.3 219 299 221.6 299C224.3 298.9 227.3 298.8 230.7 299C234.1 299.1 239 299.5 242 299.6C245.1 299.7 247.1 299.6 248.8 299.6C250.5 299.6 251.7 302.9 252.2 299.6C252.8 296.4 262.6 283.3 252.2 280C241.8 276.7 200.3 279.9 189.9 280Z" fill="#f9423d" class="cp" style="fill:#f9423d"/>
<path d="M204.3 280C196.1 280 203.7 279.3 204.3 279.9C204.9 280.5 206.6 282.2 207.8 283.6C209 285.1 210 287.5 211.3 288.9C212.5 290.3 213.9 291.7 215.3 292C216.8 292.3 218.7 291.4 220 290.6C221.2 289.8 222.1 288.2 222.9 287.1C223.7 286.1 223 284.9 224.6 284.2C226.3 283.5 229.9 283.4 232.8 283.1C235.7 282.8 238.6 282.6 242 282.5C245.5 282.4 251.7 282.9 253.7 282.5C255.6 282.1 261.9 280.4 253.7 280C245.4 279.6 212.5 280 204.3 280Z" fill="#fb6648" class="cp" style="fill:#fb6648"/>
<path d="M207.8 280C205.3 280 207.4 279.4 207.8 279.9C208.2 280.4 209.2 282 210.1 283.1C211 284.2 212.1 285.6 213 286.5C214 287.5 214.9 288.4 215.9 288.5C217 288.6 218.4 287.8 219.4 287.1C220.4 286.4 221.1 285.4 221.7 284.2C222.3 283 222.7 280.6 222.9 279.9C223.1 279.2 225.4 280 222.9 280C220.4 280 210.3 280 207.8 280Z" fill="#fd9c62" class="cp" style="fill:#fd9c62"/>
<path d="M212.4 280C211.3 280 212.2 279.5 212.4 279.9C212.6 280.3 213 281.7 213.6 282.5C214.2 283.3 215.2 284.5 215.9 284.6C216.7 284.7 217.7 283.8 218.2 283.1C218.8 282.3 218.9 280.4 219.1 279.9C219.2 279.4 220.2 280 219.1 280C218 280 213.5 280 212.4 280Z" fill="#fdb87e" class="cp" style="fill:#fdb87e"/>
<path d="M230.4 280C226.6 280 229.9 279.7 230.4 279.9C231 280.1 232 281.1 233.9 281.3C235.9 281.6 238.8 281.6 242 281.6C245.3 281.6 251.7 281.6 253.7 281.3C255.6 281.1 257.5 280.2 253.7 280C249.8 279.8 234.3 280 230.4 280Z" fill="#fd9c62" class="cp" style="fill:#fd9c62"/>
<path d="M231 282.1 L235.1 282.4" class="cz"/>
<path d="M244.9 282.5 L248.4 282.6" class="cz"/>
<path d="M193.1 280C191.6 280 192.6 279.1 193.1 279.9C193.5 280.7 194.6 283.2 195.6 284.8C196.6 286.4 197.9 287.7 199.1 289.4C200.3 291.2 201.5 293.8 202.6 295.3C203.6 296.7 204.4 297.8 205.5 298.2C206.5 298.5 208.2 298.3 209 297.6C209.7 296.9 210.2 295.4 210.1 294.1C210 292.7 209.2 291 208.4 289.4C207.5 287.9 206 286.4 204.9 284.8C203.8 283.2 202.2 280.7 201.6 279.9C201.1 279.1 203.1 280 201.6 280C200.2 280 194.5 280 193.1 280Z" fill="#f52c37" class="cp" style="fill:#f52c37"/>
<path d="M224.1 290.6C224.1 289.7 224.1 288.5 225.2 287.7C226.3 286.9 228 286.4 230.4 286C232.9 285.6 235.9 285.5 239.7 285.4C243.6 285.3 251.3 283.4 253.7 285.4C256 287.4 255.6 295.5 253.7 297.6C251.7 299.6 245.3 297.8 242 297.6C238.8 297.4 236.2 296.9 233.9 296.4C231.6 295.9 229.7 295.3 228.1 294.7C226.6 294.1 225.3 293.6 224.6 292.9C224 292.3 224 291.5 224.1 290.6Z" fill="#f52c37" class="cp" style="fill:#f52c37"/>
<g transform="translate(211.2 310.8) rotate(-22)"><rect x="-6.8" y="-3.2" width="13.7" height="6.4" fill="none"/><text x="0" y="3.4" text-anchor="middle" style="font-size:9.6px;fill:#000">2.0</text></g>
<path d="M175.9 281.2 L188.4 281.2 L188.8 301.7 L189.3 317.5 L190.6 318.7 L190.6 344.8 L191.8 345.9 L191.8 361.8 L194.1 361.8 L194.1 369.5 L175.9 369.5Z" fill="#7f7f7f"/>
<path d="M200.4 369.5 L200.4 361.8 L212.4 361.8 L212.4 353.8 L215.5 353.8 L215.5 361.8 L217.5 361.8 L217.5 369.5Z" fill="#7f7f7f"/>
<path d="M225.3 369.5 L225.3 361.8 L232.2 361.8 L232.2 353.8 L237.1 353.8 L237.1 345.7 L243.5 345.7 L244.6 335.7 L245.7 324.4 L248 317.5 L249.1 313 L249.8 301.7 L250.3 281.2 L293.1 281.2 L293.1 369.5Z" fill="#7f7f7f"/>
</g>
<path class="fr" d="M175.9 281.2 H293.4 V369.5"/>
<path class="ax" d="M175.9 281.2 V369.5 H293.4M175.9 281.2h-4.4M175.9 288.6h-2.4M175.9 295.9h-4.4M175.9 303.3h-2.4M175.9 310.6h-4.4M175.9 318h-2.4M175.9 325.3h-4.4M175.9 332.7h-2.4M175.9 340.1h-4.4M175.9 347.4h-2.4M175.9 354.8h-4.4M175.9 362.1h-2.4M175.9 369.5h-4.4M181.7 369.5v3.8M194.9 369.5v3.8M208.1 369.5v3.8M221.3 369.5v3.8M234.5 369.5v3.8M247.7 369.5v3.8M260.9 369.5v3.8M274.1 369.5v3.8M287.3 369.5v3.8"/>
<text class="tk" x="182" y="383.3" text-anchor="middle">80°S</text>
<text class="tk" x="208.4" y="383.3" text-anchor="middle">40°S</text>
<text class="tk" x="234.8" y="383.3" text-anchor="middle">0°</text>
<text class="tk" x="261.2" y="383.3" text-anchor="middle">40°N</text>
<text class="tk" x="287.6" y="383.3" text-anchor="middle">80°N</text>
<g clip-path="url(#c22)">
<rect x="314.5" y="281.2" width="117.5" height="88.3" fill="#e6fcff"/>
<path d="M324.5 280C313.3 280.1 324.3 277.5 324.5 280.8C324.7 284.1 325 296.6 325.6 299.9C326.2 303.1 327.4 299.9 328.3 300.5C329.3 301.2 330.2 302.4 331.3 303.9C332.3 305.5 333.5 307.9 334.7 309.6C335.8 311.3 336.9 314 338.1 314.1C339.2 314.3 340.3 311.9 341.5 310.7C342.6 309.6 344.1 308.7 344.9 307.3C345.6 306 345.4 304.7 346 302.8C346.6 300.9 347.3 297.9 348.3 296C349.2 294.1 350.2 292.4 351.7 291.5C353.2 290.5 355.7 290.1 357.4 290.3C359.1 290.5 360.6 291.5 361.9 292.6C363.2 293.7 365.1 295.6 365.3 297.1C365.5 298.7 364 300.4 363 301.7C362.1 303 359.8 303.9 359.6 305.1C359.4 306.2 360.8 307.5 361.9 308.5C363 309.4 364.5 310.2 366.4 310.7C368.3 311.3 371 311.9 373.2 311.9C375.5 311.9 377.9 311.3 380 310.7C382.1 310.2 383.8 309.3 385.7 308.5C387.6 307.6 390.4 310.5 391.4 305.8C392.3 301 402.5 284.3 391.4 280C380.2 275.7 335.6 279.9 324.5 280Z" fill="#c2f5ff" class="cn" style="fill:#c2f5ff"/>
<path d="M325.6 280C321.6 280.1 325 280.2 325.6 280.8C326.2 281.4 327.9 282.9 329 283.5C330.1 284.2 331.3 283.9 332.4 284.7C333.5 285.4 334.5 287.2 335.8 288.1C337.1 288.9 338.8 289.9 340.3 289.9C341.9 289.9 343.7 289.1 344.9 288.1C346 287 346.4 284.7 347.1 283.5C347.9 282.3 349 281.4 349.4 280.8C349.8 280.2 353.4 280.1 349.4 280C345.4 279.9 329.6 279.9 325.6 280Z" fill="#a0ebff" class="cn" style="fill:#a0ebff"/>
<path d="M352.4 280C345.9 280.1 351.5 280 352.4 280.8C353.2 281.6 355 283.6 357.4 284.7C359.7 285.7 363.4 286.4 366.4 286.9C369.4 287.4 372.5 287.5 375.5 287.6C378.5 287.7 381.9 287.7 384.6 287.6C387.2 287.5 390.2 288.2 391.4 286.9C392.5 285.7 397.9 281.2 391.4 280C384.9 278.8 358.9 279.9 352.4 280Z" fill="#a0ebff" class="cn" style="fill:#a0ebff"/>
<path d="M364.8 280C360.4 280.1 363.8 280 364.8 280.4C365.9 280.7 368.4 281.6 371 281.9C373.5 282.3 376.6 282.4 380 282.4C383.4 282.4 389.5 282.6 391.4 282.2C393.3 281.8 395.8 280.4 391.4 280C386.9 279.6 369.3 279.9 364.8 280Z" fill="#80ddff" class="cn" style="fill:#80ddff"/>
<g transform="translate(349.9 296.4) rotate(-62)"><rect x="-9.1" y="-3.2" width="18.3" height="6.4" fill="#c2f5ff"/><text x="0" y="3.4" text-anchor="middle" style="font-size:9.6px;fill:#000">−1.0</text></g>
<path d="M314.5 281.2 L327 281.2 L327.4 301.7 L327.9 317.5 L329.2 318.7 L329.2 344.8 L330.4 345.9 L330.4 361.8 L332.7 361.8 L332.7 369.5 L314.5 369.5Z" fill="#7f7f7f"/>
<path d="M339 369.5 L339 361.8 L351 361.8 L351 353.8 L354.1 353.8 L354.1 361.8 L356.1 361.8 L356.1 369.5Z" fill="#7f7f7f"/>
<path d="M363.9 369.5 L363.9 361.8 L370.8 361.8 L370.8 353.8 L375.7 353.8 L375.7 345.7 L382.1 345.7 L383.2 335.7 L384.3 324.4 L386.6 317.5 L387.7 313 L388.4 301.7 L388.9 281.2 L431.7 281.2 L431.7 369.5Z" fill="#7f7f7f"/>
</g>
<path class="fr" d="M314.5 281.2 H432 V369.5"/>
<path class="ax" d="M314.5 281.2 V369.5 H432M314.5 281.2h-4.4M314.5 288.6h-2.4M314.5 295.9h-4.4M314.5 303.3h-2.4M314.5 310.6h-4.4M314.5 318h-2.4M314.5 325.3h-4.4M314.5 332.7h-2.4M314.5 340.1h-4.4M314.5 347.4h-2.4M314.5 354.8h-4.4M314.5 362.1h-2.4M314.5 369.5h-4.4M320.3 369.5v3.8M333.5 369.5v3.8M346.7 369.5v3.8M359.9 369.5v3.8M373.1 369.5v3.8M386.3 369.5v3.8M399.5 369.5v3.8M412.7 369.5v3.8M425.9 369.5v3.8"/>
<text class="tk" x="320.6" y="383.3" text-anchor="middle">80°S</text>
<text class="tk" x="347" y="383.3" text-anchor="middle">40°S</text>
<text class="tk" x="373.4" y="383.3" text-anchor="middle">0°</text>
<text class="tk" x="399.8" y="383.3" text-anchor="middle">40°N</text>
<text class="tk" x="426.2" y="383.3" text-anchor="middle">80°N</text>
<g clip-path="url(#c23)">
<rect x="453.4" y="281.2" width="117.5" height="88.3" fill="#80ddff"/>
<path d="M462.5 280C451.3 280.1 462.2 280.1 462.5 280.8C462.7 281.6 463.1 283.8 464.1 284.4C465 285.1 466.9 283.3 468.1 284.7C469.4 286 470.6 290.1 471.5 292.6C472.5 295.1 472.9 297.3 473.8 299.4C474.8 301.5 475.9 303.8 477.2 305.1C478.5 306.4 479.9 307.5 481.7 307.3C483.6 307.2 486.3 304.6 488.5 303.9C490.8 303.3 493.3 303.1 495.4 303.5C497.4 303.9 499.1 305 501 306.2C502.9 307.4 504.6 309.6 506.7 310.7C508.8 311.9 511.2 312.4 513.5 313C515.8 313.6 518.2 314.1 520.3 314.1C522.4 314.1 524.5 313.2 526 313C527.5 312.8 528.8 318.5 529.4 313C529.9 307.5 540.5 285.5 529.4 280C518.2 274.5 473.6 279.9 462.5 280Z" fill="#60c4fe" class="cn" style="fill:#60c4fe"/>
<path d="M485.8 280C484.1 280.1 485.6 279.4 485.8 280.4C486.1 281.3 486.6 284.1 487.4 285.8C488.2 287.5 489.7 290 490.8 290.3C492 290.7 493.3 289.7 494.2 288.1C495.1 286.4 495.7 281.7 496 280.4C496.3 279 497.7 280.1 496 280C494.3 279.9 487.5 279.9 485.8 280Z" fill="#80ddff" class="cn" style="fill:#80ddff"/>
<path d="M473 280C472.5 281 472 284 472.8 286C473.5 287.9 476 290.2 477.4 291.8C478.9 293.3 480.2 294.9 481.5 295.3C482.7 295.6 484.7 295 485 294.1C485.2 293.2 484.1 291.4 483.2 290C482.3 288.7 480.9 287.2 479.7 286C478.6 284.7 477 283.5 476.3 282.5C475.5 281.5 476 280.4 475.5 280C475 279.6 473.5 279 473 280Z" fill="#3c94fc" class="cn" style="fill:#3c94fc"/>
<path d="M496.5 280C491 280.1 496.3 279 496.5 280.4C496.7 281.7 496.9 285.8 497.6 288.1C498.4 290.3 499.5 291.8 501 293.7C502.5 295.6 504.2 298.1 506.7 299.4C509.1 300.7 512.7 301.3 515.8 301.7C518.8 302.1 522.6 301.9 524.8 301.7C527.1 301.5 528.6 304.2 529.4 300.5C530.1 296.9 534.8 283.4 529.4 280C523.9 276.6 502 279.9 496.5 280Z" fill="#44a2fc" class="cn" style="fill:#44a2fc"/>
<path d="M516.9 290.6C517.1 289.8 518.2 289.1 520.4 288.9C522.5 288.6 528.1 287.7 529.7 289.2C531.2 290.8 530.4 297 529.7 298.2C528.9 299.4 526.8 297.2 525 296.4C523.3 295.6 520.6 294.5 519.2 293.5C517.9 292.5 516.7 291.4 516.9 290.6Z" fill="#2e7efc" class="cn" style="fill:#2e7efc"/>
<path d="M494.8 284.2C496.4 284.3 500.6 284.9 504.1 284.8C507.6 284.7 511.9 284.1 515.7 283.9C519.6 283.6 525.4 283.5 527.3 283.4" class="cn"/>
<path d="M476.1 318.7C476.3 316.4 476.6 315.9 478.3 315.3C480 314.6 483.4 314.6 486.3 314.8C489.1 315 492.7 315.6 495.4 316.4C498 317.2 500.5 318.3 502.2 319.8C503.9 321.3 504.6 323.8 505.6 325.5C506.5 327.2 507.1 330 507.8 330C508.6 330 508.8 326.6 510.1 325.5C511.4 324.4 513.7 323.8 515.8 323.2C517.8 322.7 520.7 322.7 522.6 322.1C524.5 321.4 526 319.8 527.1 319.4C528.2 318.9 529 310.2 529.4 319.4C529.7 328.5 536.2 365.1 529.4 374.2C522.6 383.4 495.5 376.3 488.5 374.2C481.6 372.2 488.2 364.8 487.4 361.8C486.7 358.7 484.8 358.2 484 356.1C483.3 354 483.6 351.9 482.9 349.3C482.1 346.6 480.5 343.6 479.5 340.2C478.5 336.8 477.3 332.5 476.8 328.9C476.2 325.3 475.8 321 476.1 318.7Z" fill="#a0ebff" class="cn" style="fill:#a0ebff"/>
<path d="M488.5 360.6C488.6 359.1 488.5 353.9 489 351.6C489.5 349.2 490.5 346.6 491.3 346.6C492 346.6 493.1 349.2 493.5 351.6C494 353.9 493.9 359.1 494 360.6" class="cn"/>
<path d="M453.4 281.2 L465.9 281.2 L466.3 301.7 L466.8 317.5 L468.1 318.7 L468.1 344.8 L469.3 345.9 L469.3 361.8 L471.6 361.8 L471.6 369.5 L453.4 369.5Z" fill="#7f7f7f"/>
<path d="M477.9 369.5 L477.9 361.8 L489.9 361.8 L489.9 353.8 L493 353.8 L493 361.8 L495 361.8 L495 369.5Z" fill="#7f7f7f"/>
<path d="M502.8 369.5 L502.8 361.8 L509.7 361.8 L509.7 353.8 L514.6 353.8 L514.6 345.7 L521 345.7 L522.1 335.7 L523.2 324.4 L525.5 317.5 L526.6 313 L527.3 301.7 L527.8 281.2 L570.6 281.2 L570.6 369.5Z" fill="#7f7f7f"/>
</g>
<path class="fr" d="M453.4 281.2 H570.9 V369.5"/>
<path class="ax" d="M453.4 281.2 V369.5 H570.9M453.4 281.2h-4.4M453.4 288.6h-2.4M453.4 295.9h-4.4M453.4 303.3h-2.4M453.4 310.6h-4.4M453.4 318h-2.4M453.4 325.3h-4.4M453.4 332.7h-2.4M453.4 340.1h-4.4M453.4 347.4h-2.4M453.4 354.8h-4.4M453.4 362.1h-2.4M453.4 369.5h-4.4M459.2 369.5v3.8M472.4 369.5v3.8M485.6 369.5v3.8M498.8 369.5v3.8M512 369.5v3.8M525.2 369.5v3.8M538.4 369.5v3.8M551.6 369.5v3.8M564.8 369.5v3.8"/>
<text class="tk" x="459.5" y="383.3" text-anchor="middle">80°S</text>
<text class="tk" x="485.9" y="383.3" text-anchor="middle">40°S</text>
<text class="tk" x="512.3" y="383.3" text-anchor="middle">0°</text>
<text class="tk" x="538.7" y="383.3" text-anchor="middle">40°N</text>
<text class="tk" x="565.1" y="383.3" text-anchor="middle">80°N</text>
<rect x="577.3" y="281.2" width="9.7" height="4.5" fill="#c41030"/>
<rect x="577.3" y="285.6" width="9.7" height="4.5" fill="#e41e38"/>
<rect x="577.3" y="290" width="9.7" height="4.5" fill="#f52c37"/>
<rect x="577.3" y="294.4" width="9.7" height="4.5" fill="#f9423d"/>
<rect x="577.3" y="298.9" width="9.7" height="4.5" fill="#fb6648"/>
<rect x="577.3" y="303.3" width="9.7" height="4.5" fill="#fd9c62"/>
<rect x="577.3" y="307.7" width="9.7" height="4.5" fill="#fdb87e"/>
<rect x="577.3" y="312.1" width="9.7" height="4.5" fill="#ffe2a0"/>
<rect x="577.3" y="316.5" width="9.7" height="4.5" fill="#fff5c2"/>
<rect x="577.3" y="320.9" width="9.7" height="4.5" fill="#fffeea"/>
<rect x="577.3" y="325.3" width="9.7" height="4.5" fill="#e6fcff"/>
<rect x="577.3" y="329.8" width="9.7" height="4.5" fill="#c2f5ff"/>
<rect x="577.3" y="334.2" width="9.7" height="4.5" fill="#a0ebff"/>
<rect x="577.3" y="338.6" width="9.7" height="4.5" fill="#80ddff"/>
<rect x="577.3" y="343" width="9.7" height="4.5" fill="#60c4fe"/>
<rect x="577.3" y="347.4" width="9.7" height="4.5" fill="#44a2fc"/>
<rect x="577.3" y="351.8" width="9.7" height="4.5" fill="#2e7efc"/>
<rect x="577.3" y="356.3" width="9.7" height="4.5" fill="#1e4efa"/>
<rect x="577.3" y="360.7" width="9.7" height="4.5" fill="#1426f2"/>
<rect x="577.3" y="365.1" width="9.7" height="4.5" fill="#100ce0"/>
<path d="M577.3 281.2h9.7M577.3 285.6h9.7M577.3 290h9.7M577.3 294.4h9.7M577.3 298.9h9.7M577.3 303.3h9.7M577.3 307.7h9.7M577.3 312.1h9.7M577.3 316.5h9.7M577.3 320.9h9.7M577.3 325.3h9.7M577.3 329.8h9.7M577.3 334.2h9.7M577.3 338.6h9.7M577.3 343h9.7M577.3 347.4h9.7M577.3 351.8h9.7M577.3 356.3h9.7M577.3 360.7h9.7M577.3 365.1h9.7M577.3 369.5h9.7" stroke="#100808" stroke-opacity=".8" stroke-width=".6" fill="none"/>
<rect x="577.3" y="281.2" width="9.7" height="88.3" fill="none" stroke="#222" stroke-width=".5"/>
<text class="tk" x="589.4" y="283.9">10</text>
<text class="tk" x="589.4" y="292.7">8</text>
<text class="tk" x="589.4" y="301.6">6</text>
<text class="tk" x="589.4" y="310.4">4</text>
<text class="tk" x="589.4" y="319.2">2</text>
<text class="tk" x="589.4" y="328">0</text>
<text class="tk" x="588.6" y="336.9">−<tspan dx="1.1">2</tspan></text>
<text class="tk" x="588.6" y="345.7">−<tspan dx="1.1">4</tspan></text>
<text class="tk" x="588.6" y="354.5">−<tspan dx="1.1">6</tspan></text>
<text class="tk" x="588.6" y="363.4">−<tspan dx="1.1">8</tspan></text>
<text class="tk" x="588.6" y="372.2">−<tspan dx="1.1">10</tspan></text>
<text class="ti" y="10.6"><tspan x="114.9" textLength="52.2" lengthAdjust="spacingAndGlyphs">WARMING</tspan> <tspan x="173.3" textLength="7.5" lengthAdjust="spacingAndGlyphs">Δ</tspan> <tspan x="188.3" textLength="28.6" lengthAdjust="spacingAndGlyphs">TEMP</tspan> <tspan x="225.6" textLength="13.2" lengthAdjust="spacingAndGlyphs">(C)</tspan></text>
<text class="ti" y="10.6"><tspan x="387.4" textLength="51" lengthAdjust="spacingAndGlyphs">COOLING</tspan> <tspan x="445.9" textLength="7.4" lengthAdjust="spacingAndGlyphs">Δ</tspan> <tspan x="460.8" textLength="28.1" lengthAdjust="spacingAndGlyphs">TEMP</tspan> <tspan x="497.4" textLength="15.6" lengthAdjust="spacingAndGlyphs">(C)</tspan></text>
<text class="ba" x="172.7" y="24.3" text-anchor="middle">ATLANTIC</text>
<text class="ba" x="450" y="24.3" text-anchor="middle">ATLANTIC</text>
<text class="ba" x="172.7" y="149.9" text-anchor="middle">PACIFIC</text>
<text class="ba" x="450" y="149.9" text-anchor="middle">PACIFIC</text>
<text class="ba" x="172.7" y="275.2" text-anchor="middle">INDIAN</text>
<text class="ba" x="450" y="275.2" text-anchor="middle">INDIAN</text>
<text class="la" x="96.2" y="392.8" text-anchor="middle">LATITUDE</text>
<text class="yr" x="96.2" y="403.6" text-anchor="middle">Year(150)</text>
<text class="la" x="234.5" y="392.8" text-anchor="middle">LATITUDE</text>
<text class="yr" x="234.5" y="403.6" text-anchor="middle">Year(500)</text>
<text class="la" x="373.1" y="392.8" text-anchor="middle">LATITUDE</text>
<text class="yr" x="373.1" y="403.6" text-anchor="middle">Year(150)</text>
<text class="la" x="512" y="392.8" text-anchor="middle">LATITUDE</text>
<text class="yr" x="512" y="403.6" text-anchor="middle">Year(500)</text>
</svg></body></html>
